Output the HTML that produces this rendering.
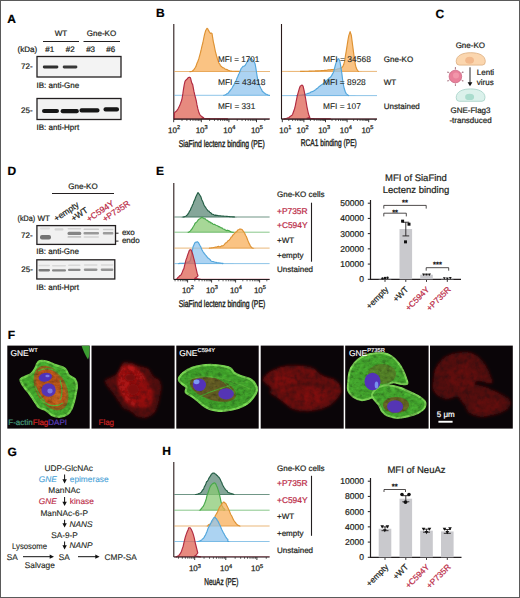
<!DOCTYPE html>
<html><head><meta charset="utf-8"><style>
html,body{margin:0;padding:0;background:#fff;overflow:hidden;}
svg{display:block;font-family:"Liberation Sans", sans-serif;text-rendering:geometricPrecision;}
</style></head><body>
<svg width="520" height="598" viewBox="0 0 520 598">
<defs>
<filter id="blur2s" x="-20%" y="-80%" width="140%" height="260%"><feGaussianBlur stdDeviation="0.7 0.5"/></filter>
<filter id="blur1" x="-20%" y="-50%" width="140%" height="200%"><feGaussianBlur stdDeviation="0.6"/></filter>
<filter id="blur2" x="-20%" y="-20%" width="140%" height="140%"><feGaussianBlur stdDeviation="1.2"/></filter>
<filter id="blur3" x="-20%" y="-20%" width="140%" height="140%"><feGaussianBlur stdDeviation="2"/></filter>
</defs>
<rect x="0.50" y="0.50" width="519.00" height="597.00" fill="#fff" stroke="#5a5a5a" stroke-width="1"/>
<text x="7.20" y="22.80" font-size="12" fill="#000" stroke="#000" stroke-width="0.22" font-weight="bold">A</text>
<text x="156.00" y="17.30" font-size="12" fill="#000" stroke="#000" stroke-width="0.22" font-weight="bold">B</text>
<text x="435.60" y="17.50" font-size="12" fill="#000" stroke="#000" stroke-width="0.22" font-weight="bold">C</text>
<text x="7.40" y="175.00" font-size="12" fill="#000" stroke="#000" stroke-width="0.22" font-weight="bold">D</text>
<text x="156.00" y="175.10" font-size="12" fill="#000" stroke="#000" stroke-width="0.22" font-weight="bold">E</text>
<text x="7.70" y="338.80" font-size="12" fill="#000" stroke="#000" stroke-width="0.22" font-weight="bold">F</text>
<text x="7.40" y="455.90" font-size="12" fill="#000" stroke="#000" stroke-width="0.22" font-weight="bold">G</text>
<text x="162.30" y="455.00" font-size="12" fill="#000" stroke="#000" stroke-width="0.22" font-weight="bold">H</text>
<text x="61.00" y="36.30" font-size="8" fill="#231f20" stroke="#231f20" stroke-width="0.22" text-anchor="middle">WT</text>
<line x1="43.00" y1="41.50" x2="79.00" y2="41.50" stroke="#231f20" stroke-width="1"/>
<text x="101.50" y="36.30" font-size="8" fill="#231f20" stroke="#231f20" stroke-width="0.22" text-anchor="middle">Gne-KO</text>
<line x1="83.50" y1="41.50" x2="120.00" y2="41.50" stroke="#231f20" stroke-width="1"/>
<text x="17.50" y="51.70" font-size="8" fill="#231f20" stroke="#231f20" stroke-width="0.22">(kDa)</text>
<text x="49.80" y="51.70" font-size="8" fill="#231f20" stroke="#231f20" stroke-width="0.22" text-anchor="middle">#1</text>
<text x="70.30" y="51.70" font-size="8" fill="#231f20" stroke="#231f20" stroke-width="0.22" text-anchor="middle">#2</text>
<text x="90.60" y="51.70" font-size="8" fill="#231f20" stroke="#231f20" stroke-width="0.22" text-anchor="middle">#3</text>
<text x="110.80" y="51.70" font-size="8" fill="#231f20" stroke="#231f20" stroke-width="0.22" text-anchor="middle">#6</text>
<rect x="37.00" y="56.50" width="84.00" height="20.50" fill="#f3f3f3" stroke="#231f20" stroke-width="1.3"/>
<text x="21.00" y="69.30" font-size="8" fill="#231f20" stroke="#231f20" stroke-width="0.22">72-</text>
<g filter="url(#blur2s)">
<rect x="42.8" y="65.5" width="15.6" height="3" rx="1.4" fill="#2e2e2e"/>
<rect x="62.7" y="65.6" width="14.7" height="2.9" rx="1.4" fill="#383838"/>
</g>
<text x="36.50" y="88.30" font-size="8" fill="#231f20" stroke="#231f20" stroke-width="0.22">IB: anti-Gne</text>
<rect x="37.00" y="98.50" width="84.00" height="21.00" fill="#f2f2f2" stroke="#231f20" stroke-width="1.3"/>
<text x="21.00" y="113.00" font-size="8" fill="#231f20" stroke="#231f20" stroke-width="0.22">25-</text>
<g filter="url(#blur2s)">
<rect x="42" y="108.9" width="17" height="4.2" rx="2" fill="#151515"/>
<rect x="60.6" y="109.10000000000001" width="18.199999999999996" height="4.2" rx="2" fill="#151515"/>
<rect x="79.5" y="108.2" width="20.0" height="4.2" rx="2" fill="#151515"/>
<rect x="103.5" y="107.30000000000001" width="15.5" height="4.2" rx="2" fill="#151515"/>
</g>
<text x="36.50" y="130.20" font-size="8" fill="#231f20" stroke="#231f20" stroke-width="0.22">IB: anti-Hprt</text>
<line x1="173.80" y1="24.00" x2="173.80" y2="119.20" stroke="#2a1a1a" stroke-width="1.1"/>
<path d="M174.3,71.8 L174.7,71.8 L175.2,71.8 L175.7,71.8 L176.4,71.8 L177.1,71.8 L177.8,71.8 L178.6,71.8 L179.4,71.8 L180.2,71.8 L181.1,71.8 L182.0,71.8 L182.8,71.8 L183.7,71.8 L184.6,71.7 L185.4,71.7 L186.2,71.7 L187.0,71.7 L187.7,71.7 L188.4,71.7 L189.0,71.7 L189.5,71.6 L190.0,71.6 L191.7,71.4 L192.4,71.2 L192.6,70.9 L193.0,70.5 L194.1,69.4 L195.1,67.8 L196.1,66.1 L197.0,63.2 L197.9,61.2 L198.9,58.4 L200.0,54.3 L201.0,50.5 L201.9,46.4 L202.8,43.0 L203.7,38.5 L204.5,34.7 L205.7,30.5 L207.0,28.4 L207.7,28.7 L208.5,30.4 L209.5,32.1 L210.5,33.5 L211.3,33.0 L212.0,33.4 L213.3,41.6 L214.2,45.5 L215.3,51.1 L215.9,53.3 L216.6,56.0 L217.4,58.7 L218.2,61.1 L218.9,63.1 L219.6,63.8 L220.3,65.3 L221.1,66.3 L222.0,67.0 L222.6,67.7 L223.3,67.7 L224.0,68.1 L224.7,68.6 L225.4,69.3 L226.2,69.4 L227.0,69.6 L227.8,70.1 L228.3,70.2 L228.7,70.4 L229.0,70.5 L229.2,70.7 L229.6,70.8 L230.1,70.9 L230.8,71.0 L231.8,71.1 L233.1,71.2 L235.0,71.3 L235.4,71.3 L235.9,71.3 L236.4,71.4 L237.0,71.4 L237.5,71.4 L238.1,71.4 L238.8,71.4 L239.4,71.4 L240.1,71.4 L240.8,71.5 L241.5,71.5 L242.2,71.5 L243.0,71.5 L243.8,71.5 L244.6,71.5 L245.4,71.5 L246.2,71.5 L247.0,71.6 L247.8,71.6 L248.7,71.6 L249.5,71.6 L250.4,71.6 L251.2,71.6 L252.1,71.6 L252.9,71.6 L253.8,71.6 L254.7,71.6 L255.5,71.7 L256.4,71.7 L257.2,71.7 L258.0,71.7 L258.8,71.7 L259.6,71.7 L260.4,71.7 L261.2,71.7 L262.0,71.7 L262.7,71.7 L263.4,71.7 L264.1,71.7 L264.8,71.7 L265.4,71.8 L266.1,71.8 L266.7,71.8 L267.3,71.8 L267.8,71.8 L268.3,71.8 L268.8,71.8 L269.2,71.8 L269.6,71.8 L270.0,71.8 L270.0,71.8 L174.3,71.8 Z" fill="#f8af5a" fill-opacity="0.75" stroke="none"/>
<line x1="174.3" y1="71.5" x2="270.0" y2="71.5" stroke="#de9233" stroke-opacity="0.65" stroke-width="1"/>
<path d="M190.0,71.6 L191.7,71.4 L192.4,71.2 L192.6,70.9 L193.0,70.5 L194.1,69.4 L195.1,67.8 L196.1,66.1 L197.0,63.2 L197.9,61.2 L198.9,58.4 L200.0,54.3 L201.0,50.5 L201.9,46.4 L202.8,43.0 L203.7,38.5 L204.5,34.7 L205.7,30.5 L207.0,28.4 L207.7,28.7 L208.5,30.4 L209.5,32.1 L210.5,33.5 L211.3,33.0 L212.0,33.4 L213.3,41.6 L214.2,45.5 L215.3,51.1 L215.9,53.3 L216.6,56.0 L217.4,58.7 L218.2,61.1 L218.9,63.1 L219.6,63.8 L220.3,65.3 L221.1,66.3 L222.0,67.0 L222.6,67.7 L223.3,67.7 L224.0,68.1 L224.7,68.6 L225.4,69.3 L226.2,69.4 L227.0,69.6 L227.8,70.1 L228.3,70.2 L228.7,70.4 L229.0,70.5 L229.2,70.7 L229.6,70.8 L230.1,70.9 L230.8,71.0 L231.8,71.1 L233.1,71.2 L235.0,71.3 L235.4,71.3 L235.9,71.3 L236.4,71.4 L237.0,71.4 L237.5,71.4 L238.1,71.4 L238.8,71.4 L239.4,71.4 L240.1,71.4 L240.8,71.5" fill="none" stroke="#de9233" stroke-width="1.15" stroke-linejoin="round" stroke-linecap="round"/>
<path d="M174.3,95.6 L174.7,95.6 L175.1,95.6 L175.5,95.6 L175.9,95.6 L176.4,95.6 L176.9,95.6 L177.5,95.6 L178.0,95.6 L178.6,95.6 L179.2,95.6 L179.9,95.6 L180.5,95.6 L181.2,95.6 L181.9,95.6 L182.6,95.6 L183.3,95.6 L184.0,95.6 L184.8,95.6 L185.6,95.6 L186.4,95.6 L187.2,95.6 L188.0,95.6 L188.8,95.6 L189.6,95.6 L190.5,95.6 L191.3,95.6 L192.1,95.6 L193.0,95.6 L193.9,95.6 L194.7,95.6 L195.6,95.6 L196.5,95.6 L197.3,95.6 L198.2,95.6 L199.1,95.6 L200.0,95.6 L200.8,95.6 L201.7,95.6 L202.5,95.6 L203.4,95.6 L204.2,95.6 L205.1,95.6 L205.9,95.6 L206.7,95.6 L207.5,95.5 L208.3,95.5 L209.1,95.5 L209.9,95.5 L210.6,95.5 L211.4,95.5 L212.1,95.5 L212.8,95.5 L213.5,95.5 L214.2,95.5 L214.8,95.5 L215.4,95.5 L216.0,95.5 L216.6,95.5 L217.2,95.5 L217.7,95.5 L218.2,95.5 L218.7,95.5 L219.2,95.5 L219.6,95.5 L220.0,95.5 L223.5,95.5 L224.6,95.5 L224.3,95.4 L223.8,95.4 L223.9,95.2 L224.7,95.0 L225.5,94.7 L226.2,94.3 L227.0,93.7 L227.8,93.5 L228.6,92.7 L229.3,91.5 L230.1,90.8 L230.8,89.7 L231.6,88.8 L232.4,87.5 L233.2,85.8 L233.9,85.0 L234.7,82.9 L235.5,81.6 L236.3,80.2 L237.1,77.9 L237.9,76.3 L238.7,74.2 L239.3,73.2 L240.4,70.5 L241.2,68.4 L242.2,67.4 L243.2,66.2 L244.2,66.1 L245.1,65.5 L246.1,63.8 L247.0,61.9 L247.9,60.9 L248.9,60.0 L249.6,59.1 L250.4,58.9 L251.2,58.3 L252.2,59.6 L253.2,60.7 L254.2,62.0 L255.1,63.8 L255.8,67.7 L256.6,73.0 L257.5,78.3 L258.5,82.3 L259.2,85.0 L260.0,86.6 L260.8,88.2 L261.6,89.6 L262.4,91.4 L263.3,92.0 L264.0,92.7 L264.8,93.3 L265.7,94.1 L266.5,94.2 L267.2,94.6 L268.0,95.0 L268.8,95.2 L269.5,95.5 L270.0,95.6 L270.0,95.6 L174.3,95.6 Z" fill="#90c4ee" fill-opacity="0.75" stroke="none"/>
<line x1="174.3" y1="95.3" x2="270.0" y2="95.3" stroke="#52a6dc" stroke-opacity="0.65" stroke-width="1"/>
<path d="M223.8,95.4 L223.9,95.2 L224.7,95.0 L225.5,94.7 L226.2,94.3 L227.0,93.7 L227.8,93.5 L228.6,92.7 L229.3,91.5 L230.1,90.8 L230.8,89.7 L231.6,88.8 L232.4,87.5 L233.2,85.8 L233.9,85.0 L234.7,82.9 L235.5,81.6 L236.3,80.2 L237.1,77.9 L237.9,76.3 L238.7,74.2 L239.3,73.2 L240.4,70.5 L241.2,68.4 L242.2,67.4 L243.2,66.2 L244.2,66.1 L245.1,65.5 L246.1,63.8 L247.0,61.9 L247.9,60.9 L248.9,60.0 L249.6,59.1 L250.4,58.9 L251.2,58.3 L252.2,59.6 L253.2,60.7 L254.2,62.0 L255.1,63.8 L255.8,67.7 L256.6,73.0 L257.5,78.3 L258.5,82.3 L259.2,85.0 L260.0,86.6 L260.8,88.2 L261.6,89.6 L262.4,91.4 L263.3,92.0 L264.0,92.7 L264.8,93.3 L265.7,94.1 L266.5,94.2 L267.2,94.6 L268.0,95.0 L268.8,95.2 L269.5,95.5" fill="none" stroke="#52a6dc" stroke-width="1.15" stroke-linejoin="round" stroke-linecap="round"/>
<path d="M174.3,119.2 L174.4,113.0 L175.0,112.2 L175.9,111.5 L176.8,110.7 L177.5,109.7 L178.2,108.6 L179.0,107.0 L179.7,105.6 L180.6,103.3 L181.4,101.0 L182.1,98.3 L182.9,93.4 L183.5,89.1 L184.2,84.9 L185.0,81.4 L185.7,80.2 L186.4,79.8 L187.2,78.8 L187.9,78.0 L188.6,77.6 L189.3,77.2 L190.5,77.8 L191.7,82.9 L192.7,84.6 L193.9,91.2 L194.7,94.7 L195.6,98.1 L196.3,101.0 L197.0,104.9 L197.9,108.9 L198.9,112.6 L199.8,114.6 L200.8,115.7 L201.4,116.3 L202.1,116.7 L202.9,117.4 L203.7,117.7 L203.5,117.9 L202.4,118.1 L201.8,118.3 L203.1,118.5 L207.6,118.6 L208.0,118.6 L208.4,118.6 L208.8,118.6 L209.3,118.6 L209.7,118.6 L210.2,118.7 L210.7,118.7 L211.3,118.7 L211.8,118.7 L212.4,118.7 L213.0,118.7 L213.6,118.7 L214.2,118.7 L214.8,118.7 L215.4,118.7 L216.1,118.7 L216.8,118.7 L217.5,118.8 L218.2,118.8 L218.9,118.8 L219.6,118.8 L220.4,118.8 L221.1,118.8 L221.9,118.8 L222.6,118.8 L223.4,118.8 L224.2,118.8 L225.0,118.8 L225.8,118.8 L226.7,118.8 L227.5,118.9 L228.3,118.9 L229.1,118.9 L230.0,118.9 L230.8,118.9 L231.7,118.9 L232.5,118.9 L233.4,118.9 L234.3,118.9 L235.1,118.9 L236.0,118.9 L236.9,118.9 L237.7,118.9 L238.6,119.0 L239.5,119.0 L240.3,119.0 L241.2,119.0 L242.1,119.0 L243.0,119.0 L243.8,119.0 L244.7,119.0 L245.5,119.0 L246.4,119.0 L247.2,119.0 L248.1,119.0 L248.9,119.0 L249.7,119.0 L250.6,119.0 L251.4,119.1 L252.2,119.1 L253.0,119.1 L253.8,119.1 L254.6,119.1 L255.3,119.1 L256.1,119.1 L256.9,119.1 L257.6,119.1 L258.3,119.1 L259.0,119.1 L259.8,119.1 L260.4,119.1 L261.1,119.1 L261.8,119.1 L262.4,119.1 L263.1,119.1 L263.7,119.1 L264.3,119.2 L264.9,119.2 L265.4,119.2 L266.0,119.2 L266.5,119.2 L267.0,119.2 L267.5,119.2 L268.0,119.2 L268.4,119.2 L268.8,119.2 L269.3,119.2 L269.6,119.2 L270.0,119.2 L270.0,119.2 L174.3,119.2 Z" fill="#df6354" fill-opacity="0.75" stroke="none"/>
<line x1="174.3" y1="118.9" x2="270.0" y2="118.9" stroke="#b02a40" stroke-opacity="0.65" stroke-width="1"/>
<path d="M174.3,119.2 L174.4,113.0 L175.0,112.2 L175.9,111.5 L176.8,110.7 L177.5,109.7 L178.2,108.6 L179.0,107.0 L179.7,105.6 L180.6,103.3 L181.4,101.0 L182.1,98.3 L182.9,93.4 L183.5,89.1 L184.2,84.9 L185.0,81.4 L185.7,80.2 L186.4,79.8 L187.2,78.8 L187.9,78.0 L188.6,77.6 L189.3,77.2 L190.5,77.8 L191.7,82.9 L192.7,84.6 L193.9,91.2 L194.7,94.7 L195.6,98.1 L196.3,101.0 L197.0,104.9 L197.9,108.9 L198.9,112.6 L199.8,114.6 L200.8,115.7 L201.4,116.3 L202.1,116.7 L202.9,117.4 L203.7,117.7 L203.5,117.9 L202.4,118.1 L201.8,118.3 L203.1,118.5 L207.6,118.6 L208.0,118.6 L208.4,118.6 L208.8,118.6 L209.3,118.6 L209.7,118.6 L210.2,118.7 L210.7,118.7 L211.3,118.7 L211.8,118.7 L212.4,118.7 L213.0,118.7 L213.6,118.7 L214.2,118.7 L214.8,118.7 L215.4,118.7 L216.1,118.7 L216.8,118.7 L217.5,118.8 L218.2,118.8 L218.9,118.8 L219.6,118.8 L220.4,118.8 L221.1,118.8 L221.9,118.8 L222.6,118.8 L223.4,118.8 L224.2,118.8 L225.0,118.8 L225.8,118.8 L226.7,118.8 L227.5,118.9" fill="none" stroke="#b02a40" stroke-width="1.15" stroke-linejoin="round" stroke-linecap="round"/>
<line x1="173.80" y1="119.20" x2="269.50" y2="119.20" stroke="#231f20" stroke-width="1.2"/>
<line x1="173.70" y1="119.20" x2="173.70" y2="122.20" stroke="#231f20" stroke-width="0.9"/>
<line x1="182.01" y1="119.20" x2="182.01" y2="121.00" stroke="#231f20" stroke-width="0.7"/>
<line x1="186.87" y1="119.20" x2="186.87" y2="121.00" stroke="#231f20" stroke-width="0.7"/>
<line x1="190.32" y1="119.20" x2="190.32" y2="121.00" stroke="#231f20" stroke-width="0.7"/>
<line x1="192.99" y1="119.20" x2="192.99" y2="121.00" stroke="#231f20" stroke-width="0.7"/>
<line x1="195.18" y1="119.20" x2="195.18" y2="121.00" stroke="#231f20" stroke-width="0.7"/>
<line x1="197.02" y1="119.20" x2="197.02" y2="121.00" stroke="#231f20" stroke-width="0.7"/>
<line x1="198.63" y1="119.20" x2="198.63" y2="121.00" stroke="#231f20" stroke-width="0.7"/>
<line x1="200.04" y1="119.20" x2="200.04" y2="121.00" stroke="#231f20" stroke-width="0.7"/>
<line x1="201.30" y1="119.20" x2="201.30" y2="122.20" stroke="#231f20" stroke-width="0.9"/>
<line x1="209.61" y1="119.20" x2="209.61" y2="121.00" stroke="#231f20" stroke-width="0.7"/>
<line x1="214.47" y1="119.20" x2="214.47" y2="121.00" stroke="#231f20" stroke-width="0.7"/>
<line x1="217.92" y1="119.20" x2="217.92" y2="121.00" stroke="#231f20" stroke-width="0.7"/>
<line x1="220.59" y1="119.20" x2="220.59" y2="121.00" stroke="#231f20" stroke-width="0.7"/>
<line x1="222.78" y1="119.20" x2="222.78" y2="121.00" stroke="#231f20" stroke-width="0.7"/>
<line x1="224.62" y1="119.20" x2="224.62" y2="121.00" stroke="#231f20" stroke-width="0.7"/>
<line x1="226.23" y1="119.20" x2="226.23" y2="121.00" stroke="#231f20" stroke-width="0.7"/>
<line x1="227.64" y1="119.20" x2="227.64" y2="121.00" stroke="#231f20" stroke-width="0.7"/>
<line x1="228.90" y1="119.20" x2="228.90" y2="122.20" stroke="#231f20" stroke-width="0.9"/>
<line x1="237.21" y1="119.20" x2="237.21" y2="121.00" stroke="#231f20" stroke-width="0.7"/>
<line x1="242.07" y1="119.20" x2="242.07" y2="121.00" stroke="#231f20" stroke-width="0.7"/>
<line x1="245.52" y1="119.20" x2="245.52" y2="121.00" stroke="#231f20" stroke-width="0.7"/>
<line x1="248.19" y1="119.20" x2="248.19" y2="121.00" stroke="#231f20" stroke-width="0.7"/>
<line x1="250.38" y1="119.20" x2="250.38" y2="121.00" stroke="#231f20" stroke-width="0.7"/>
<line x1="252.22" y1="119.20" x2="252.22" y2="121.00" stroke="#231f20" stroke-width="0.7"/>
<line x1="253.83" y1="119.20" x2="253.83" y2="121.00" stroke="#231f20" stroke-width="0.7"/>
<line x1="255.24" y1="119.20" x2="255.24" y2="121.00" stroke="#231f20" stroke-width="0.7"/>
<line x1="256.50" y1="119.20" x2="256.50" y2="122.20" stroke="#231f20" stroke-width="0.9"/>
<line x1="264.81" y1="119.20" x2="264.81" y2="121.00" stroke="#231f20" stroke-width="0.7"/>
<text x="174.10" y="132.70" font-size="8" fill="#231f20" stroke="#231f20" stroke-width="0.25" text-anchor="middle">10<tspan font-size="5.60" dy="-3.36">2</tspan></text>
<text x="201.70" y="132.70" font-size="8" fill="#231f20" stroke="#231f20" stroke-width="0.25" text-anchor="middle">10<tspan font-size="5.60" dy="-3.36">3</tspan></text>
<text x="229.30" y="132.70" font-size="8" fill="#231f20" stroke="#231f20" stroke-width="0.25" text-anchor="middle">10<tspan font-size="5.60" dy="-3.36">4</tspan></text>
<text x="256.90" y="132.70" font-size="8" fill="#231f20" stroke="#231f20" stroke-width="0.25" text-anchor="middle">10<tspan font-size="5.60" dy="-3.36">5</tspan></text>
<text x="178.70" y="146.70" font-size="9.8" fill="#231f20" stroke="#231f20" stroke-width="0.4" textLength="86" lengthAdjust="spacingAndGlyphs">SiaFind lectenz binding (PE)</text>
<text x="217.90" y="62.00" font-size="8.3" fill="#231f20" stroke="#231f20" stroke-width="0.1" textLength="41.4" lengthAdjust="spacingAndGlyphs">MFI = 1701</text>
<text x="217.90" y="85.00" font-size="8.3" fill="#231f20" stroke="#231f20" stroke-width="0.1" textLength="47.6" lengthAdjust="spacingAndGlyphs">MFI = 43418</text>
<text x="217.90" y="109.20" font-size="8.3" fill="#231f20" stroke="#231f20" stroke-width="0.1" textLength="37.4" lengthAdjust="spacingAndGlyphs">MFI = 331</text>
<line x1="281.50" y1="24.00" x2="281.50" y2="119.20" stroke="#2a1a1a" stroke-width="1.1"/>
<path d="M282.0,71.7 L282.4,71.7 L282.7,71.7 L283.1,71.7 L283.6,71.7 L284.1,71.7 L284.7,71.7 L285.4,71.7 L286.3,71.7 L287.3,71.7 L288.6,71.6 L290.0,71.6 L290.5,71.6 L291.0,71.6 L291.5,71.6 L292.1,71.6 L292.7,71.5 L293.3,71.5 L293.9,71.5 L294.6,71.5 L295.3,71.5 L296.0,71.5 L296.7,71.5 L297.4,71.4 L298.2,71.4 L298.9,71.4 L299.7,71.4 L300.5,71.4 L301.2,71.3 L302.0,71.3 L302.8,71.3 L303.6,71.3 L304.4,71.3 L305.2,71.2 L306.0,71.2 L306.8,71.2 L307.6,71.2 L308.3,71.2 L309.1,71.1 L309.9,71.1 L310.6,71.1 L311.4,71.1 L312.1,71.0 L312.8,71.0 L313.5,71.0 L314.1,71.0 L314.8,71.0 L315.4,70.9 L316.0,70.9 L316.9,70.9 L317.8,70.8 L318.6,70.8 L319.5,70.7 L320.4,70.7 L321.2,70.6 L322.0,70.6 L322.8,70.5 L323.6,70.5 L324.4,70.4 L325.1,70.4 L325.8,70.3 L326.6,70.3 L327.3,70.2 L328.0,69.9 L328.6,69.9 L329.3,69.9 L329.9,69.8 L330.5,69.9 L331.1,69.6 L331.7,69.6 L332.3,69.6 L332.8,69.5 L333.3,69.6 L334.5,69.3 L335.6,69.7 L336.5,69.4 L337.3,69.0 L337.9,68.9 L338.5,68.8 L339.1,68.7 L339.6,68.3 L340.2,68.5 L341.1,68.1 L341.9,67.3 L342.6,66.7 L343.2,65.6 L343.7,64.6 L344.7,60.8 L345.4,56.1 L346.2,51.3 L347.1,45.6 L348.0,39.9 L348.8,35.7 L350.1,31.6 L351.3,35.2 L352.7,45.8 L354.0,55.9 L355.4,64.8 L356.0,67.3 L356.7,69.1 L357.5,70.3 L357.9,70.8 L358.2,71.2 L358.6,71.4 L359.5,71.5 L361.0,71.6 L361.5,71.6 L362.0,71.7 L362.7,71.7 L363.4,71.7 L364.1,71.7 L364.9,71.7 L365.7,71.7 L366.6,71.7 L367.4,71.7 L368.3,71.7 L369.2,71.7 L370.1,71.7 L371.0,71.7 L371.8,71.7 L372.7,71.7 L373.5,71.7 L374.2,71.7 L374.9,71.7 L375.5,71.7 L376.1,71.7 L376.6,71.7 L377.0,71.7 L377.0,71.7 L282.0,71.7 Z" fill="#f8af5a" fill-opacity="0.75" stroke="none"/>
<line x1="282.0" y1="71.4" x2="377.0" y2="71.4" stroke="#de9233" stroke-opacity="0.65" stroke-width="1"/>
<path d="M300.5,71.4 L301.2,71.3 L302.0,71.3 L302.8,71.3 L303.6,71.3 L304.4,71.3 L305.2,71.2 L306.0,71.2 L306.8,71.2 L307.6,71.2 L308.3,71.2 L309.1,71.1 L309.9,71.1 L310.6,71.1 L311.4,71.1 L312.1,71.0 L312.8,71.0 L313.5,71.0 L314.1,71.0 L314.8,71.0 L315.4,70.9 L316.0,70.9 L316.9,70.9 L317.8,70.8 L318.6,70.8 L319.5,70.7 L320.4,70.7 L321.2,70.6 L322.0,70.6 L322.8,70.5 L323.6,70.5 L324.4,70.4 L325.1,70.4 L325.8,70.3 L326.6,70.3 L327.3,70.2 L328.0,69.9 L328.6,69.9 L329.3,69.9 L329.9,69.8 L330.5,69.9 L331.1,69.6 L331.7,69.6 L332.3,69.6 L332.8,69.5 L333.3,69.6 L334.5,69.3 L335.6,69.7 L336.5,69.4 L337.3,69.0 L337.9,68.9 L338.5,68.8 L339.1,68.7 L339.6,68.3 L340.2,68.5 L341.1,68.1 L341.9,67.3 L342.6,66.7 L343.2,65.6 L343.7,64.6 L344.7,60.8 L345.4,56.1 L346.2,51.3 L347.1,45.6 L348.0,39.9 L348.8,35.7 L350.1,31.6 L351.3,35.2 L352.7,45.8 L354.0,55.9 L355.4,64.8 L356.0,67.3 L356.7,69.1 L357.5,70.3 L357.9,70.8 L358.2,71.2 L358.6,71.4" fill="none" stroke="#de9233" stroke-width="1.15" stroke-linejoin="round" stroke-linecap="round"/>
<path d="M282.0,95.9 L282.4,95.9 L283.0,95.9 L283.6,95.9 L284.3,95.9 L285.1,95.9 L285.9,95.9 L286.8,95.9 L287.6,95.9 L288.5,95.9 L289.4,95.9 L290.2,95.8 L291.0,95.8 L291.7,95.8 L292.4,95.8 L293.3,95.8 L294.2,95.7 L295.0,95.7 L295.7,95.6 L296.4,95.6 L297.1,95.5 L297.8,95.5 L298.6,95.4 L299.3,95.3 L300.1,95.2 L300.9,95.1 L301.7,95.0 L302.5,94.9 L303.2,94.7 L304.0,94.6 L304.8,94.4 L305.5,94.4 L306.2,94.0 L307.0,93.8 L307.8,93.4 L308.5,93.4 L309.3,93.0 L310.0,92.8 L310.7,92.2 L311.4,91.7 L312.1,91.7 L312.9,91.4 L313.6,91.0 L314.4,90.5 L315.1,90.1 L315.9,89.5 L316.6,88.7 L317.3,88.4 L318.1,87.7 L318.8,86.9 L319.6,86.2 L320.3,85.7 L321.1,85.1 L321.8,84.7 L322.6,84.3 L323.3,83.3 L324.1,83.0 L324.8,82.4 L325.6,81.8 L326.3,80.8 L327.0,80.1 L327.8,79.4 L328.6,78.7 L329.3,78.0 L330.0,77.6 L330.7,77.0 L331.3,76.2 L332.3,74.4 L333.2,72.8 L333.9,71.0 L334.9,67.0 L335.7,63.9 L336.6,61.5 L337.4,59.7 L338.1,58.8 L338.8,58.7 L340.0,61.9 L341.2,69.2 L341.9,73.9 L342.6,79.6 L343.4,84.8 L344.3,88.8 L345.3,91.7 L346.4,93.9 L347.1,94.4 L347.8,94.9 L348.6,95.3 L348.6,95.6 L348.6,95.7 L351.2,95.8 L351.6,95.8 L352.1,95.8 L352.6,95.8 L353.2,95.8 L353.8,95.8 L354.5,95.8 L355.1,95.8 L355.9,95.9 L356.6,95.9 L357.4,95.9 L358.2,95.9 L359.0,95.9 L359.9,95.9 L360.7,95.9 L361.6,95.9 L362.5,95.9 L363.4,95.9 L364.3,95.9 L365.1,95.9 L366.0,95.9 L366.9,95.9 L367.8,95.9 L368.6,95.9 L369.5,95.9 L370.3,95.9 L371.1,95.9 L371.8,95.9 L372.6,95.9 L373.3,95.9 L373.9,95.9 L374.6,95.9 L375.1,95.9 L375.7,95.9 L376.2,95.9 L376.6,95.9 L377.0,95.9 L377.0,95.9 L282.0,95.9 Z" fill="#90c4ee" fill-opacity="0.75" stroke="none"/>
<line x1="282.0" y1="95.6" x2="377.0" y2="95.6" stroke="#52a6dc" stroke-opacity="0.65" stroke-width="1"/>
<path d="M296.4,95.6 L297.1,95.5 L297.8,95.5 L298.6,95.4 L299.3,95.3 L300.1,95.2 L300.9,95.1 L301.7,95.0 L302.5,94.9 L303.2,94.7 L304.0,94.6 L304.8,94.4 L305.5,94.4 L306.2,94.0 L307.0,93.8 L307.8,93.4 L308.5,93.4 L309.3,93.0 L310.0,92.8 L310.7,92.2 L311.4,91.7 L312.1,91.7 L312.9,91.4 L313.6,91.0 L314.4,90.5 L315.1,90.1 L315.9,89.5 L316.6,88.7 L317.3,88.4 L318.1,87.7 L318.8,86.9 L319.6,86.2 L320.3,85.7 L321.1,85.1 L321.8,84.7 L322.6,84.3 L323.3,83.3 L324.1,83.0 L324.8,82.4 L325.6,81.8 L326.3,80.8 L327.0,80.1 L327.8,79.4 L328.6,78.7 L329.3,78.0 L330.0,77.6 L330.7,77.0 L331.3,76.2 L332.3,74.4 L333.2,72.8 L333.9,71.0 L334.9,67.0 L335.7,63.9 L336.6,61.5 L337.4,59.7 L338.1,58.8 L338.8,58.7 L340.0,61.9 L341.2,69.2 L341.9,73.9 L342.6,79.6 L343.4,84.8 L344.3,88.8 L345.3,91.7 L346.4,93.9 L347.1,94.4 L347.8,94.9 L348.6,95.3 L348.6,95.6" fill="none" stroke="#52a6dc" stroke-width="1.15" stroke-linejoin="round" stroke-linecap="round"/>
<path d="M282.0,119.2 L282.5,119.1 L283.2,119.0 L284.1,118.9 L285.0,118.7 L285.8,118.5 L286.6,118.3 L287.4,118.0 L288.2,117.7 L289.0,117.5 L289.7,116.8 L290.5,116.2 L291.3,115.6 L292.0,115.3 L292.6,114.3 L293.6,111.5 L294.5,109.0 L295.3,105.8 L296.0,102.2 L297.4,95.3 L298.1,92.9 L298.8,90.4 L299.6,87.7 L300.3,86.1 L301.7,85.1 L302.5,85.3 L303.2,86.6 L304.3,91.5 L305.6,98.5 L307.0,107.1 L308.4,113.5 L309.1,115.8 L309.9,117.4 L306.9,118.2 L311.8,118.6 L312.2,118.6 L312.6,118.6 L313.0,118.6 L313.4,118.6 L313.9,118.6 L314.3,118.7 L314.8,118.7 L315.4,118.7 L315.9,118.7 L316.4,118.7 L317.0,118.7 L317.6,118.7 L318.2,118.7 L318.8,118.7 L319.4,118.7 L320.1,118.7 L320.7,118.7 L321.4,118.8 L322.1,118.8 L322.8,118.8 L323.5,118.8 L324.3,118.8 L325.0,118.8 L325.7,118.8 L326.5,118.8 L327.3,118.8 L328.1,118.8 L328.8,118.8 L329.6,118.8 L330.4,118.9 L331.3,118.9 L332.1,118.9 L332.9,118.9 L333.7,118.9 L334.6,118.9 L335.4,118.9 L336.3,118.9 L337.1,118.9 L338.0,118.9 L338.9,118.9 L339.7,118.9 L340.6,118.9 L341.5,118.9 L342.3,119.0 L343.2,119.0 L344.1,119.0 L345.0,119.0 L345.8,119.0 L346.7,119.0 L347.6,119.0 L348.4,119.0 L349.3,119.0 L350.2,119.0 L351.0,119.0 L351.9,119.0 L352.7,119.0 L353.6,119.0 L354.4,119.0 L355.3,119.0 L356.1,119.1 L356.9,119.1 L357.8,119.1 L358.6,119.1 L359.4,119.1 L360.2,119.1 L360.9,119.1 L361.7,119.1 L362.5,119.1 L363.2,119.1 L364.0,119.1 L364.7,119.1 L365.4,119.1 L366.1,119.1 L366.8,119.1 L367.5,119.1 L368.2,119.1 L368.9,119.1 L369.5,119.1 L370.1,119.1 L370.7,119.2 L371.3,119.2 L371.9,119.2 L372.5,119.2 L373.0,119.2 L373.5,119.2 L374.0,119.2 L374.5,119.2 L375.0,119.2 L375.4,119.2 L375.8,119.2 L376.3,119.2 L376.6,119.2 L377.0,119.2 L377.0,119.2 L282.0,119.2 Z" fill="#df6354" fill-opacity="0.75" stroke="none"/>
<line x1="282.0" y1="118.9" x2="377.0" y2="118.9" stroke="#b02a40" stroke-opacity="0.65" stroke-width="1"/>
<path d="M284.1,118.9 L285.0,118.7 L285.8,118.5 L286.6,118.3 L287.4,118.0 L288.2,117.7 L289.0,117.5 L289.7,116.8 L290.5,116.2 L291.3,115.6 L292.0,115.3 L292.6,114.3 L293.6,111.5 L294.5,109.0 L295.3,105.8 L296.0,102.2 L297.4,95.3 L298.1,92.9 L298.8,90.4 L299.6,87.7 L300.3,86.1 L301.7,85.1 L302.5,85.3 L303.2,86.6 L304.3,91.5 L305.6,98.5 L307.0,107.1 L308.4,113.5 L309.1,115.8 L309.9,117.4 L306.9,118.2 L311.8,118.6 L312.2,118.6 L312.6,118.6 L313.0,118.6 L313.4,118.6 L313.9,118.6 L314.3,118.7 L314.8,118.7 L315.4,118.7 L315.9,118.7 L316.4,118.7 L317.0,118.7 L317.6,118.7 L318.2,118.7 L318.8,118.7 L319.4,118.7 L320.1,118.7 L320.7,118.7 L321.4,118.8 L322.1,118.8 L322.8,118.8 L323.5,118.8 L324.3,118.8 L325.0,118.8 L325.7,118.8 L326.5,118.8 L327.3,118.8 L328.1,118.8 L328.8,118.8 L329.6,118.8 L330.4,118.9" fill="none" stroke="#b02a40" stroke-width="1.15" stroke-linejoin="round" stroke-linecap="round"/>
<line x1="281.50" y1="119.20" x2="377.00" y2="119.20" stroke="#231f20" stroke-width="1.2"/>
<line x1="282.30" y1="119.20" x2="282.30" y2="122.20" stroke="#231f20" stroke-width="0.9"/>
<line x1="288.80" y1="119.20" x2="288.80" y2="121.00" stroke="#231f20" stroke-width="0.7"/>
<line x1="292.61" y1="119.20" x2="292.61" y2="121.00" stroke="#231f20" stroke-width="0.7"/>
<line x1="295.30" y1="119.20" x2="295.30" y2="121.00" stroke="#231f20" stroke-width="0.7"/>
<line x1="297.40" y1="119.20" x2="297.40" y2="121.00" stroke="#231f20" stroke-width="0.7"/>
<line x1="299.11" y1="119.20" x2="299.11" y2="121.00" stroke="#231f20" stroke-width="0.7"/>
<line x1="300.55" y1="119.20" x2="300.55" y2="121.00" stroke="#231f20" stroke-width="0.7"/>
<line x1="301.81" y1="119.20" x2="301.81" y2="121.00" stroke="#231f20" stroke-width="0.7"/>
<line x1="302.91" y1="119.20" x2="302.91" y2="121.00" stroke="#231f20" stroke-width="0.7"/>
<line x1="303.90" y1="119.20" x2="303.90" y2="122.20" stroke="#231f20" stroke-width="0.9"/>
<line x1="310.40" y1="119.20" x2="310.40" y2="121.00" stroke="#231f20" stroke-width="0.7"/>
<line x1="314.21" y1="119.20" x2="314.21" y2="121.00" stroke="#231f20" stroke-width="0.7"/>
<line x1="316.90" y1="119.20" x2="316.90" y2="121.00" stroke="#231f20" stroke-width="0.7"/>
<line x1="319.00" y1="119.20" x2="319.00" y2="121.00" stroke="#231f20" stroke-width="0.7"/>
<line x1="320.71" y1="119.20" x2="320.71" y2="121.00" stroke="#231f20" stroke-width="0.7"/>
<line x1="322.15" y1="119.20" x2="322.15" y2="121.00" stroke="#231f20" stroke-width="0.7"/>
<line x1="323.41" y1="119.20" x2="323.41" y2="121.00" stroke="#231f20" stroke-width="0.7"/>
<line x1="324.51" y1="119.20" x2="324.51" y2="121.00" stroke="#231f20" stroke-width="0.7"/>
<line x1="325.50" y1="119.20" x2="325.50" y2="122.20" stroke="#231f20" stroke-width="0.9"/>
<line x1="332.00" y1="119.20" x2="332.00" y2="121.00" stroke="#231f20" stroke-width="0.7"/>
<line x1="335.81" y1="119.20" x2="335.81" y2="121.00" stroke="#231f20" stroke-width="0.7"/>
<line x1="338.50" y1="119.20" x2="338.50" y2="121.00" stroke="#231f20" stroke-width="0.7"/>
<line x1="340.60" y1="119.20" x2="340.60" y2="121.00" stroke="#231f20" stroke-width="0.7"/>
<line x1="342.31" y1="119.20" x2="342.31" y2="121.00" stroke="#231f20" stroke-width="0.7"/>
<line x1="343.75" y1="119.20" x2="343.75" y2="121.00" stroke="#231f20" stroke-width="0.7"/>
<line x1="345.01" y1="119.20" x2="345.01" y2="121.00" stroke="#231f20" stroke-width="0.7"/>
<line x1="346.11" y1="119.20" x2="346.11" y2="121.00" stroke="#231f20" stroke-width="0.7"/>
<line x1="347.10" y1="119.20" x2="347.10" y2="122.20" stroke="#231f20" stroke-width="0.9"/>
<line x1="353.60" y1="119.20" x2="353.60" y2="121.00" stroke="#231f20" stroke-width="0.7"/>
<line x1="357.41" y1="119.20" x2="357.41" y2="121.00" stroke="#231f20" stroke-width="0.7"/>
<line x1="360.10" y1="119.20" x2="360.10" y2="121.00" stroke="#231f20" stroke-width="0.7"/>
<line x1="362.20" y1="119.20" x2="362.20" y2="121.00" stroke="#231f20" stroke-width="0.7"/>
<line x1="363.91" y1="119.20" x2="363.91" y2="121.00" stroke="#231f20" stroke-width="0.7"/>
<line x1="365.35" y1="119.20" x2="365.35" y2="121.00" stroke="#231f20" stroke-width="0.7"/>
<line x1="366.61" y1="119.20" x2="366.61" y2="121.00" stroke="#231f20" stroke-width="0.7"/>
<line x1="367.71" y1="119.20" x2="367.71" y2="121.00" stroke="#231f20" stroke-width="0.7"/>
<line x1="368.70" y1="119.20" x2="368.70" y2="122.20" stroke="#231f20" stroke-width="0.9"/>
<line x1="375.20" y1="119.20" x2="375.20" y2="121.00" stroke="#231f20" stroke-width="0.7"/>
<text x="285.30" y="132.70" font-size="8" fill="#231f20" stroke="#231f20" stroke-width="0.25" text-anchor="middle">10<tspan font-size="5.60" dy="-3.36">1</tspan></text>
<text x="302.60" y="132.70" font-size="8" fill="#231f20" stroke="#231f20" stroke-width="0.25" text-anchor="middle">10<tspan font-size="5.60" dy="-3.36">2</tspan></text>
<text x="324.20" y="132.70" font-size="8" fill="#231f20" stroke="#231f20" stroke-width="0.25" text-anchor="middle">10<tspan font-size="5.60" dy="-3.36">3</tspan></text>
<text x="345.80" y="132.70" font-size="8" fill="#231f20" stroke="#231f20" stroke-width="0.25" text-anchor="middle">10<tspan font-size="5.60" dy="-3.36">4</tspan></text>
<text x="367.40" y="132.70" font-size="8" fill="#231f20" stroke="#231f20" stroke-width="0.25" text-anchor="middle">10<tspan font-size="5.60" dy="-3.36">5</tspan></text>
<text x="300.80" y="146.20" font-size="9.8" fill="#231f20" stroke="#231f20" stroke-width="0.4" textLength="56" lengthAdjust="spacingAndGlyphs">RCA1 binding (PE)</text>
<text x="323.00" y="62.00" font-size="8.3" fill="#231f20" stroke="#231f20" stroke-width="0.1" textLength="48" lengthAdjust="spacingAndGlyphs">MFI = 34568</text>
<text x="323.00" y="85.00" font-size="8.3" fill="#231f20" stroke="#231f20" stroke-width="0.1" textLength="42.8" lengthAdjust="spacingAndGlyphs">MFI = 8928</text>
<text x="323.00" y="109.20" font-size="8.3" fill="#231f20" stroke="#231f20" stroke-width="0.1" textLength="37.8" lengthAdjust="spacingAndGlyphs">MFI = 107</text>
<text x="383.80" y="62.40" font-size="8" fill="#231f20" stroke="#231f20" stroke-width="0.22">Gne-KO</text>
<text x="383.80" y="85.00" font-size="8" fill="#231f20" stroke="#231f20" stroke-width="0.22">WT</text>
<text x="383.80" y="109.00" font-size="8" fill="#231f20" stroke="#231f20" stroke-width="0.22">Unstained</text>
<text x="470.30" y="48.00" font-size="8" fill="#231f20" stroke="#231f20" stroke-width="0.22" text-anchor="middle">Gne-KO</text>
<path d="M456.2,61.5 C456.2,55.2 463,52.7 470.8,52.7 C478.6,52.7 485.3,55.2 485.3,61.5 Q485.3,65.1 482.3,65.1 L459.2,65.1 Q456.2,65.1 456.2,61.5 Z" fill="#fbd6ae" stroke="#dcae80" stroke-width="0.8"/>
<ellipse cx="469.6" cy="60.3" rx="4.4" ry="3.5" fill="#f2b98c" filter="url(#blur1)"/>
<line x1="470.00" y1="67.30" x2="470.00" y2="83.00" stroke="#111" stroke-width="0.9"/>
<path d="M467.6,82.2 L472.4,82.2 L470,86.3 Z" fill="#111"/>
<text x="476.80" y="74.70" font-size="8" fill="#231f20" stroke="#231f20" stroke-width="0.22">Lenti</text>
<text x="476.80" y="85.20" font-size="8" fill="#231f20" stroke="#231f20" stroke-width="0.22">virus</text>
<g stroke="#b06078" stroke-width="0.45">
<line x1="455.40" y1="70.30" x2="455.40" y2="68.10"/>
<line x1="460.77" y1="73.40" x2="462.67" y2="72.30"/>
<line x1="460.77" y1="79.60" x2="462.67" y2="80.70"/>
<line x1="455.40" y1="82.70" x2="455.40" y2="84.90"/>
<line x1="450.03" y1="79.60" x2="448.13" y2="80.70"/>
<line x1="450.03" y1="73.40" x2="448.13" y2="72.30"/>
</g>
<circle cx="455.40" cy="67.90" r="0.6" fill="#7a3a4a"/>
<circle cx="462.85" cy="72.20" r="0.6" fill="#7a3a4a"/>
<circle cx="462.85" cy="80.80" r="0.6" fill="#7a3a4a"/>
<circle cx="455.40" cy="85.10" r="0.6" fill="#7a3a4a"/>
<circle cx="447.95" cy="80.80" r="0.6" fill="#7a3a4a"/>
<circle cx="447.95" cy="72.20" r="0.6" fill="#7a3a4a"/>
<circle cx="455.4" cy="76.5" r="6.3" fill="#e9809a" stroke="#c8607c" stroke-width="0.7"/>
<circle cx="456" cy="75.6" r="3" fill="#f296aa" filter="url(#blur1)"/>
<path d="M456.2,97.6 C456.2,91.4 463,88.9 470.6,88.9 C478.2,88.9 485,91.4 485,97.6 Q485,101.3 482,101.3 L459.2,101.3 Q456.2,101.3 456.2,97.6 Z" fill="#dbf1eb" stroke="#a3d0c5" stroke-width="0.8"/>
<ellipse cx="469.6" cy="96.9" rx="4.5" ry="3.2" fill="#a9dccd" filter="url(#blur1)"/>
<text x="470.50" y="113.10" font-size="8" fill="#231f20" stroke="#231f20" stroke-width="0.22" text-anchor="middle">GNE-Flag3</text>
<text x="470.50" y="122.90" font-size="8" fill="#231f20" stroke="#231f20" stroke-width="0.22" text-anchor="middle">-transduced</text>
<text x="83.00" y="189.00" font-size="8" fill="#231f20" stroke="#231f20" stroke-width="0.22" text-anchor="middle">Gne-KO</text>
<line x1="52.00" y1="193.50" x2="114.00" y2="193.50" stroke="#231f20" stroke-width="1"/>
<text x="17.50" y="220.80" font-size="8" fill="#231f20" stroke="#231f20" stroke-width="0.22" textLength="17.6" lengthAdjust="spacingAndGlyphs">(kDa)</text>
<text x="37.50" y="220.80" font-size="8" fill="#231f20" stroke="#231f20" stroke-width="0.22">WT</text>
<text x="56.3" y="221.8" font-size="8.5" fill="#231f20" stroke="#231f20" stroke-width="0.22" transform="rotate(-34 56.3 221.8)">+empty</text>
<text x="73.5" y="221.8" font-size="8.5" fill="#231f20" stroke="#231f20" stroke-width="0.22" transform="rotate(-34 73.5 221.8)">+WT</text>
<text x="89" y="222.2" font-size="8.5" fill="#bb2a46" stroke="#bb2a46" stroke-width="0.22" transform="rotate(-34 89 222.2)">+C594Y</text>
<text x="105" y="222.2" font-size="8.5" fill="#bb2a46" stroke="#bb2a46" stroke-width="0.22" transform="rotate(-34 105 222.2)">+P735R</text>
<rect x="36.90" y="225.60" width="78.60" height="18.80" fill="#f1f1f1" stroke="#231f20" stroke-width="1.3"/>
<text x="21.00" y="237.80" font-size="8" fill="#231f20" stroke="#231f20" stroke-width="0.22">72-</text>
<g filter="url(#blur2s)">
<rect x="40" y="235" width="11" height="4.6" rx="2" fill="#747474"/>
<rect x="40" y="227.6" width="10" height="2" rx="1" fill="#dcdcdc"/>
<rect x="54.5" y="228.3" width="9" height="2.3" rx="1" fill="#d4d4d4"/>
<rect x="67.5" y="231.7" width="13.8" height="3.2" rx="1.5" fill="#858585"/>
<rect x="67.5" y="236" width="13.8" height="1.8" rx="0.9" fill="#c4c4c4"/>
<rect x="67.5" y="228" width="13.8" height="1.6" rx="0.8" fill="#d4d4d4"/>
<rect x="83.5" y="232.1" width="15.5" height="2.4" rx="1" fill="#999"/>
<rect x="83.5" y="228.6" width="15.5" height="1.5" rx="0.7" fill="#cdcdcd"/>
<rect x="83.5" y="236.3" width="15.5" height="1.5" rx="0.7" fill="#d4d4d4"/>
<rect x="102.8" y="232.1" width="10.6" height="2.4" rx="1" fill="#9c9c9c"/>
<rect x="102.8" y="228.8" width="10.6" height="1.5" rx="0.7" fill="#cdcdcd"/>
</g>
<line x1="115.50" y1="233.20" x2="118.50" y2="233.20" stroke="#231f20" stroke-width="1"/>
<line x1="115.50" y1="241.10" x2="118.50" y2="241.10" stroke="#231f20" stroke-width="1"/>
<text x="121.90" y="235.30" font-size="8" fill="#231f20" stroke="#231f20" stroke-width="0.22">exo</text>
<text x="121.90" y="242.80" font-size="8" fill="#231f20" stroke="#231f20" stroke-width="0.22">endo</text>
<text x="36.30" y="254.30" font-size="8" fill="#231f20" stroke="#231f20" stroke-width="0.22">IB: anti-Gne</text>
<rect x="36.80" y="259.80" width="78.00" height="19.20" fill="#f1f1f1" stroke="#231f20" stroke-width="1.3"/>
<text x="21.30" y="272.40" font-size="8" fill="#231f20" stroke="#231f20" stroke-width="0.22">25-</text>
<g filter="url(#blur2s)">
<rect x="38.5" y="269.0" width="11.5" height="2.4" rx="1.1" fill="#7a7a7a"/>
<rect x="38.5" y="264.7" width="11.5" height="1.6" rx="0.8" fill="#d8d8d8"/>
<rect x="52" y="269.2" width="14" height="2.4" rx="1.1" fill="#858585"/>
<rect x="52" y="264.9" width="14" height="1.6" rx="0.8" fill="#d8d8d8"/>
<rect x="68" y="268.7" width="12.599999999999994" height="2.4" rx="1.1" fill="#888888"/>
<rect x="68" y="264.4" width="12.599999999999994" height="1.6" rx="0.8" fill="#d8d8d8"/>
<rect x="83.8" y="268.5" width="13.700000000000003" height="2.4" rx="1.1" fill="#939393"/>
<rect x="83.8" y="264.2" width="13.700000000000003" height="1.6" rx="0.8" fill="#d8d8d8"/>
<rect x="100.7" y="268.5" width="12.700000000000003" height="2.4" rx="1.1" fill="#949494"/>
<rect x="100.7" y="264.2" width="12.700000000000003" height="1.6" rx="0.8" fill="#d8d8d8"/>
</g>
<text x="36.30" y="289.60" font-size="8" fill="#231f20" stroke="#231f20" stroke-width="0.22">IB: anti-Hprt</text>
<line x1="173.80" y1="183.00" x2="173.80" y2="279.50" stroke="#2a1a1a" stroke-width="1.1"/>
<path d="M174.3,217.3 L174.7,217.3 L175.3,217.3 L175.9,217.3 L176.6,217.3 L177.4,217.3 L178.2,217.2 L179.1,217.2 L179.9,217.2 L180.8,217.2 L181.6,217.1 L182.3,217.1 L182.9,217.0 L183.5,216.9 L184.6,216.6 L185.5,216.3 L186.2,215.9 L186.8,215.2 L187.4,214.9 L188.2,213.6 L188.9,212.6 L189.6,211.0 L190.3,210.4 L191.0,208.3 L191.8,206.7 L192.5,205.1 L193.2,203.7 L193.9,201.4 L194.7,200.1 L195.4,198.0 L196.0,196.5 L197.1,194.2 L198.0,192.6 L199.0,193.8 L199.9,195.3 L200.9,196.9 L201.8,199.7 L202.7,201.4 L203.7,204.2 L204.3,205.6 L205.0,206.7 L205.8,207.7 L206.6,209.0 L207.3,209.9 L208.1,211.0 L208.9,211.1 L209.7,212.3 L210.5,212.6 L211.2,213.2 L211.9,214.1 L212.6,214.2 L213.4,214.6 L214.3,215.1 L214.9,215.4 L215.6,215.1 L216.3,215.4 L217.1,215.4 L217.8,215.5 L218.6,215.8 L219.4,215.7 L220.1,215.8 L220.8,215.9 L221.5,216.0 L222.2,216.0 L222.8,216.1 L223.5,216.1 L224.2,216.2 L225.0,216.2 L225.8,216.3 L226.5,216.4 L227.2,216.4 L228.0,216.5 L228.8,216.5 L229.6,216.6 L230.4,216.7 L231.2,216.7 L232.0,216.8 L232.8,216.9 L233.5,216.9 L234.1,216.9 L234.6,217.0 L234.9,217.0 L235.2,217.1 L235.6,217.1 L236.2,217.1 L237.0,217.2 L238.3,217.2 L240.0,217.2 L240.5,217.2 L240.9,217.2 L241.5,217.2 L242.0,217.2 L242.6,217.2 L243.3,217.2 L243.9,217.2 L244.6,217.2 L245.3,217.2 L246.1,217.2 L246.9,217.2 L247.6,217.2 L248.4,217.2 L249.3,217.3 L250.1,217.3 L250.9,217.3 L251.8,217.3 L252.6,217.3 L253.5,217.3 L254.3,217.3 L255.2,217.3 L256.1,217.3 L256.9,217.3 L257.8,217.3 L258.6,217.3 L259.4,217.3 L260.3,217.3 L261.1,217.3 L261.9,217.3 L262.6,217.3 L263.4,217.3 L264.1,217.3 L264.8,217.3 L265.5,217.3 L266.1,217.3 L266.7,217.3 L267.3,217.3 L267.8,217.3 L268.3,217.3 L268.8,217.3 L269.2,217.3 L269.6,217.3 L269.6,217.3 L174.3,217.3 Z" fill="#5c8877" fill-opacity="0.75" stroke="none"/>
<line x1="174.3" y1="217.0" x2="269.6" y2="217.0" stroke="#245e45" stroke-opacity="0.65" stroke-width="1"/>
<path d="M182.9,217.0 L183.5,216.9 L184.6,216.6 L185.5,216.3 L186.2,215.9 L186.8,215.2 L187.4,214.9 L188.2,213.6 L188.9,212.6 L189.6,211.0 L190.3,210.4 L191.0,208.3 L191.8,206.7 L192.5,205.1 L193.2,203.7 L193.9,201.4 L194.7,200.1 L195.4,198.0 L196.0,196.5 L197.1,194.2 L198.0,192.6 L199.0,193.8 L199.9,195.3 L200.9,196.9 L201.8,199.7 L202.7,201.4 L203.7,204.2 L204.3,205.6 L205.0,206.7 L205.8,207.7 L206.6,209.0 L207.3,209.9 L208.1,211.0 L208.9,211.1 L209.7,212.3 L210.5,212.6 L211.2,213.2 L211.9,214.1 L212.6,214.2 L213.4,214.6 L214.3,215.1 L214.9,215.4 L215.6,215.1 L216.3,215.4 L217.1,215.4 L217.8,215.5 L218.6,215.8 L219.4,215.7 L220.1,215.8 L220.8,215.9 L221.5,216.0 L222.2,216.0 L222.8,216.1 L223.5,216.1 L224.2,216.2 L225.0,216.2 L225.8,216.3 L226.5,216.4 L227.2,216.4 L228.0,216.5 L228.8,216.5 L229.6,216.6 L230.4,216.7 L231.2,216.7 L232.0,216.8 L232.8,216.9 L233.5,216.9 L234.1,216.9 L234.6,217.0" fill="none" stroke="#245e45" stroke-width="1.15" stroke-linejoin="round" stroke-linecap="round"/>
<path d="M174.3,232.5 L174.7,232.5 L175.3,232.5 L175.9,232.5 L176.6,232.5 L177.4,232.5 L178.2,232.5 L179.1,232.5 L179.9,232.5 L180.8,232.5 L181.7,232.5 L182.6,232.5 L183.4,232.5 L184.2,232.5 L184.9,232.4 L185.5,232.4 L186.0,232.4 L187.4,232.3 L188.2,232.3 L188.7,232.1 L189.3,231.7 L190.1,231.1 L190.8,230.3 L191.5,229.3 L192.2,228.7 L192.9,227.3 L193.6,226.2 L194.3,225.0 L195.1,223.3 L195.8,222.7 L196.6,222.1 L197.4,221.2 L198.2,219.9 L198.9,219.3 L199.7,218.9 L200.5,218.0 L201.2,217.8 L201.8,217.4 L202.7,217.8 L203.7,218.3 L204.3,218.8 L205.1,218.7 L205.9,219.6 L206.7,220.2 L207.6,220.3 L208.3,221.4 L209.1,221.9 L209.9,221.8 L210.7,222.9 L211.5,222.9 L212.4,223.5 L213.1,224.2 L213.8,224.5 L214.5,224.3 L215.2,224.8 L216.0,225.3 L216.7,225.5 L217.5,225.7 L218.2,226.2 L218.9,226.8 L219.6,226.7 L220.3,227.5 L221.0,227.8 L221.8,227.8 L222.5,228.4 L223.2,229.0 L223.9,229.2 L224.6,229.2 L225.3,230.2 L226.1,230.3 L226.8,230.7 L227.5,230.2 L228.2,230.6 L229.0,230.6 L229.7,231.2 L230.2,231.4 L230.5,231.6 L230.6,231.7 L230.8,231.9 L231.3,232.0 L232.1,232.1 L233.4,232.2 L235.5,232.3 L235.9,232.3 L236.4,232.3 L236.9,232.3 L237.5,232.3 L238.0,232.4 L238.6,232.4 L239.3,232.4 L239.9,232.4 L240.6,232.4 L241.3,232.4 L242.1,232.4 L242.8,232.4 L243.6,232.4 L244.4,232.4 L245.2,232.4 L246.0,232.4 L246.9,232.4 L247.7,232.4 L248.6,232.5 L249.4,232.5 L250.3,232.5 L251.2,232.5 L252.0,232.5 L252.9,232.5 L253.8,232.5 L254.7,232.5 L255.5,232.5 L256.4,232.5 L257.2,232.5 L258.1,232.5 L258.9,232.5 L259.7,232.5 L260.5,232.5 L261.3,232.5 L262.1,232.5 L262.8,232.5 L263.5,232.5 L264.2,232.5 L264.9,232.5 L265.6,232.5 L266.2,232.5 L266.8,232.5 L267.3,232.5 L267.9,232.5 L268.4,232.5 L268.8,232.5 L269.2,232.5 L269.6,232.5 L269.6,232.5 L174.3,232.5 Z" fill="#8aca74" fill-opacity="0.75" stroke="none"/>
<line x1="174.3" y1="232.2" x2="269.6" y2="232.2" stroke="#48a84a" stroke-opacity="0.65" stroke-width="1"/>
<path d="M188.2,232.3 L188.7,232.1 L189.3,231.7 L190.1,231.1 L190.8,230.3 L191.5,229.3 L192.2,228.7 L192.9,227.3 L193.6,226.2 L194.3,225.0 L195.1,223.3 L195.8,222.7 L196.6,222.1 L197.4,221.2 L198.2,219.9 L198.9,219.3 L199.7,218.9 L200.5,218.0 L201.2,217.8 L201.8,217.4 L202.7,217.8 L203.7,218.3 L204.3,218.8 L205.1,218.7 L205.9,219.6 L206.7,220.2 L207.6,220.3 L208.3,221.4 L209.1,221.9 L209.9,221.8 L210.7,222.9 L211.5,222.9 L212.4,223.5 L213.1,224.2 L213.8,224.5 L214.5,224.3 L215.2,224.8 L216.0,225.3 L216.7,225.5 L217.5,225.7 L218.2,226.2 L218.9,226.8 L219.6,226.7 L220.3,227.5 L221.0,227.8 L221.8,227.8 L222.5,228.4 L223.2,229.0 L223.9,229.2 L224.6,229.2 L225.3,230.2 L226.1,230.3 L226.8,230.7 L227.5,230.2 L228.2,230.6 L229.0,230.6 L229.7,231.2 L230.2,231.4 L230.5,231.6 L230.6,231.7 L230.8,231.9 L231.3,232.0 L232.1,232.1 L233.4,232.2" fill="none" stroke="#48a84a" stroke-width="1.15" stroke-linejoin="round" stroke-linecap="round"/>
<path d="M174.3,248.4 L174.7,248.4 L175.1,248.4 L175.6,248.4 L176.1,248.4 L176.7,248.4 L177.3,248.4 L177.9,248.4 L178.6,248.4 L179.3,248.4 L180.0,248.4 L180.8,248.4 L181.5,248.4 L182.3,248.4 L183.1,248.4 L184.0,248.4 L184.8,248.4 L185.6,248.4 L186.5,248.4 L187.4,248.4 L188.2,248.4 L189.1,248.4 L189.9,248.4 L190.8,248.4 L191.6,248.4 L192.4,248.3 L193.2,248.3 L194.0,248.3 L194.8,248.3 L195.6,248.3 L196.3,248.3 L197.0,248.3 L197.7,248.3 L198.3,248.3 L198.9,248.3 L199.5,248.3 L200.0,248.3 L201.2,248.3 L202.2,248.3 L203.1,248.3 L204.0,248.3 L204.8,248.2 L205.5,248.2 L206.2,248.2 L206.8,248.2 L207.4,248.2 L207.9,248.2 L208.4,248.1 L209.0,248.1 L209.5,248.1 L210.0,248.0 L210.5,248.0 L211.4,247.9 L212.3,247.8 L213.0,247.7 L213.6,247.5 L214.3,247.4 L214.9,247.3 L215.5,247.1 L216.2,247.0 L216.9,247.1 L217.7,246.6 L218.5,246.4 L219.2,246.6 L220.0,246.8 L220.7,246.6 L221.4,246.0 L222.0,245.7 L222.9,245.9 L223.7,245.1 L224.4,244.6 L225.1,243.5 L225.8,242.8 L226.6,242.7 L227.4,241.7 L228.1,240.6 L228.9,240.5 L229.7,239.4 L230.5,238.6 L231.2,237.1 L232.0,236.7 L232.7,235.1 L233.5,234.8 L234.3,233.6 L235.1,232.7 L236.0,232.0 L236.7,231.6 L237.4,230.5 L238.3,229.7 L239.0,229.5 L239.7,229.1 L240.5,229.0 L241.4,229.3 L242.2,229.7 L243.0,230.8 L243.9,232.0 L244.7,233.3 L245.5,235.2 L246.3,236.5 L247.0,238.3 L247.9,240.6 L248.9,243.1 L249.6,244.3 L250.3,245.8 L251.2,247.0 L251.6,247.4 L252.0,247.8 L252.4,248.0 L253.3,248.2 L254.7,248.3 L255.2,248.3 L255.7,248.4 L256.4,248.4 L257.0,248.4 L257.8,248.4 L258.6,248.4 L259.4,248.4 L260.2,248.4 L261.1,248.4 L261.9,248.4 L262.8,248.4 L263.7,248.4 L264.5,248.4 L265.3,248.4 L266.1,248.4 L266.8,248.4 L267.5,248.4 L268.2,248.4 L268.7,248.4 L269.2,248.4 L269.6,248.4 L269.6,248.4 L174.3,248.4 Z" fill="#f8af5a" fill-opacity="0.75" stroke="none"/>
<line x1="174.3" y1="248.1" x2="269.6" y2="248.1" stroke="#de9233" stroke-opacity="0.65" stroke-width="1"/>
<path d="M209.5,248.1 L210.0,248.0 L210.5,248.0 L211.4,247.9 L212.3,247.8 L213.0,247.7 L213.6,247.5 L214.3,247.4 L214.9,247.3 L215.5,247.1 L216.2,247.0 L216.9,247.1 L217.7,246.6 L218.5,246.4 L219.2,246.6 L220.0,246.8 L220.7,246.6 L221.4,246.0 L222.0,245.7 L222.9,245.9 L223.7,245.1 L224.4,244.6 L225.1,243.5 L225.8,242.8 L226.6,242.7 L227.4,241.7 L228.1,240.6 L228.9,240.5 L229.7,239.4 L230.5,238.6 L231.2,237.1 L232.0,236.7 L232.7,235.1 L233.5,234.8 L234.3,233.6 L235.1,232.7 L236.0,232.0 L236.7,231.6 L237.4,230.5 L238.3,229.7 L239.0,229.5 L239.7,229.1 L240.5,229.0 L241.4,229.3 L242.2,229.7 L243.0,230.8 L243.9,232.0 L244.7,233.3 L245.5,235.2 L246.3,236.5 L247.0,238.3 L247.9,240.6 L248.9,243.1 L249.6,244.3 L250.3,245.8 L251.2,247.0 L251.6,247.4 L252.0,247.8 L252.4,248.0 L253.3,248.2" fill="none" stroke="#de9233" stroke-width="1.15" stroke-linejoin="round" stroke-linecap="round"/>
<path d="M174.3,263.9 L174.8,263.9 L175.5,263.9 L176.3,263.9 L177.1,263.9 L177.8,263.8 L178.7,263.6 L179.6,263.4 L180.5,263.2 L181.2,263.2 L181.9,263.3 L182.7,263.3 L183.5,263.3 L184.2,263.2 L184.9,263.1 L185.6,262.9 L186.3,262.8 L187.0,262.5 L187.9,261.9 L188.7,262.2 L189.6,261.6 L190.3,260.3 L191.3,255.9 L192.2,251.1 L193.1,246.7 L194.1,244.4 L194.9,242.8 L195.8,242.1 L196.6,242.1 L197.4,241.8 L198.2,242.4 L198.9,243.4 L199.8,245.2 L200.8,246.9 L201.4,248.6 L202.1,250.0 L202.9,251.5 L203.7,252.7 L204.4,253.7 L205.1,254.5 L205.9,255.5 L206.7,256.4 L207.6,257.8 L208.3,258.1 L209.1,258.8 L209.9,259.4 L210.7,260.6 L211.5,261.2 L212.4,261.5 L213.1,261.5 L213.8,261.7 L214.5,262.0 L215.3,262.3 L216.1,262.4 L216.8,262.6 L217.5,262.7 L218.2,262.8 L219.1,262.9 L219.9,263.0 L220.8,263.1 L221.6,263.2 L222.3,263.2 L223.0,263.3 L222.9,263.4 L222.1,263.6 L222.4,263.7 L226.0,263.8 L226.4,263.8 L226.8,263.8 L227.3,263.8 L227.8,263.8 L228.3,263.8 L228.8,263.8 L229.4,263.8 L230.0,263.8 L230.6,263.8 L231.2,263.8 L231.9,263.8 L232.5,263.8 L233.2,263.8 L234.0,263.9 L234.7,263.9 L235.4,263.9 L236.2,263.9 L237.0,263.9 L237.8,263.9 L238.6,263.9 L239.4,263.9 L240.2,263.9 L241.1,263.9 L241.9,263.9 L242.8,263.9 L243.6,263.9 L244.5,263.9 L245.4,263.9 L246.2,263.9 L247.1,263.9 L248.0,263.9 L248.9,263.9 L249.7,263.9 L250.6,263.9 L251.5,263.9 L252.3,263.9 L253.2,263.9 L254.0,263.9 L254.9,263.9 L255.7,263.9 L256.5,263.9 L257.3,263.9 L258.1,263.9 L258.9,263.9 L259.7,263.9 L260.4,263.9 L261.2,263.9 L261.9,263.9 L262.6,263.9 L263.3,263.9 L264.0,263.9 L264.6,263.9 L265.2,263.9 L265.8,263.9 L266.4,263.9 L266.9,263.9 L267.4,263.9 L267.9,263.9 L268.4,263.9 L268.8,263.9 L269.2,263.9 L269.6,263.9 L269.6,263.9 L174.3,263.9 Z" fill="#90c4ee" fill-opacity="0.75" stroke="none"/>
<line x1="174.3" y1="263.6" x2="269.6" y2="263.6" stroke="#52a6dc" stroke-opacity="0.65" stroke-width="1"/>
<path d="M178.7,263.6 L179.6,263.4 L180.5,263.2 L181.2,263.2 L181.9,263.3 L182.7,263.3 L183.5,263.3 L184.2,263.2 L184.9,263.1 L185.6,262.9 L186.3,262.8 L187.0,262.5 L187.9,261.9 L188.7,262.2 L189.6,261.6 L190.3,260.3 L191.3,255.9 L192.2,251.1 L193.1,246.7 L194.1,244.4 L194.9,242.8 L195.8,242.1 L196.6,242.1 L197.4,241.8 L198.2,242.4 L198.9,243.4 L199.8,245.2 L200.8,246.9 L201.4,248.6 L202.1,250.0 L202.9,251.5 L203.7,252.7 L204.4,253.7 L205.1,254.5 L205.9,255.5 L206.7,256.4 L207.6,257.8 L208.3,258.1 L209.1,258.8 L209.9,259.4 L210.7,260.6 L211.5,261.2 L212.4,261.5 L213.1,261.5 L213.8,261.7 L214.5,262.0 L215.3,262.3 L216.1,262.4 L216.8,262.6 L217.5,262.7 L218.2,262.8 L219.1,262.9 L219.9,263.0 L220.8,263.1 L221.6,263.2 L222.3,263.2 L223.0,263.3 L222.9,263.4 L222.1,263.6" fill="none" stroke="#52a6dc" stroke-width="1.15" stroke-linejoin="round" stroke-linecap="round"/>
<path d="M174.3,279.5 L174.8,279.5 L175.6,279.5 L176.5,279.2 L177.2,278.6 L178.0,277.4 L178.9,276.8 L179.8,275.6 L180.5,275.5 L181.5,274.1 L182.3,272.1 L183.2,269.8 L183.9,268.6 L184.6,265.3 L185.3,262.7 L186.0,259.9 L186.9,257.5 L187.7,254.9 L188.5,252.8 L189.4,250.2 L190.2,249.7 L191.1,249.8 L192.0,252.2 L192.7,254.2 L193.5,257.4 L194.2,260.0 L195.0,263.2 L195.7,266.9 L196.4,269.8 L197.2,273.4 L198.0,275.8 L196.3,277.5 L194.7,278.4 L200.5,279.2 L200.9,279.2 L201.3,279.2 L201.7,279.3 L202.1,279.3 L202.6,279.3 L203.1,279.3 L203.5,279.3 L204.1,279.3 L204.6,279.3 L205.1,279.4 L205.7,279.4 L206.3,279.4 L206.9,279.4 L207.5,279.4 L208.1,279.4 L208.7,279.4 L209.4,279.4 L210.1,279.4 L210.7,279.5 L211.4,279.5 L212.1,279.5 L212.9,279.5 L213.6,279.5 L214.3,279.5 L215.1,279.5 L215.9,279.5 L216.6,279.5 L217.4,279.5 L218.2,279.5 L219.0,279.5 L219.8,279.5 L220.6,279.5 L221.4,279.5 L222.3,279.5 L223.1,279.5 L223.9,279.5 L224.8,279.5 L225.6,279.5 L226.5,279.5 L227.3,279.5 L228.2,279.5 L229.1,279.5 L230.0,279.5 L230.8,279.5 L231.7,279.5 L232.6,279.5 L233.5,279.5 L234.3,279.5 L235.2,279.5 L236.1,279.5 L237.0,279.5 L237.8,279.5 L238.7,279.5 L239.6,279.5 L240.5,279.5 L241.3,279.5 L242.2,279.5 L243.1,279.5 L243.9,279.5 L244.8,279.5 L245.6,279.5 L246.5,279.5 L247.3,279.5 L248.1,279.5 L248.9,279.5 L249.8,279.5 L250.6,279.5 L251.4,279.5 L252.2,279.5 L253.0,279.5 L253.7,279.5 L254.5,279.5 L255.2,279.5 L256.0,279.5 L256.7,279.5 L257.5,279.5 L258.2,279.5 L258.9,279.5 L259.5,279.5 L260.2,279.5 L260.9,279.5 L261.5,279.5 L262.2,279.5 L262.8,279.5 L263.4,279.5 L264.0,279.5 L264.5,279.5 L265.1,279.5 L265.6,279.5 L266.1,279.5 L266.6,279.5 L267.1,279.5 L267.6,279.5 L268.0,279.5 L268.4,279.5 L268.9,279.5 L269.2,279.5 L269.6,279.5 L269.6,279.5 L174.3,279.5 Z" fill="#df6354" fill-opacity="0.75" stroke="none"/>
<line x1="174.3" y1="279.2" x2="269.6" y2="279.2" stroke="#b02a40" stroke-opacity="0.65" stroke-width="1"/>
<path d="M176.5,279.2 L177.2,278.6 L178.0,277.4 L178.9,276.8 L179.8,275.6 L180.5,275.5 L181.5,274.1 L182.3,272.1 L183.2,269.8 L183.9,268.6 L184.6,265.3 L185.3,262.7 L186.0,259.9 L186.9,257.5 L187.7,254.9 L188.5,252.8 L189.4,250.2 L190.2,249.7 L191.1,249.8 L192.0,252.2 L192.7,254.2 L193.5,257.4 L194.2,260.0 L195.0,263.2 L195.7,266.9 L196.4,269.8 L197.2,273.4 L198.0,275.8 L196.3,277.5 L194.7,278.4 L200.5,279.2" fill="none" stroke="#b02a40" stroke-width="1.15" stroke-linejoin="round" stroke-linecap="round"/>
<line x1="173.80" y1="279.50" x2="269.60" y2="279.50" stroke="#231f20" stroke-width="1.2"/>
<line x1="175.05" y1="279.50" x2="175.05" y2="281.30" stroke="#231f20" stroke-width="0.7"/>
<line x1="178.05" y1="279.50" x2="178.05" y2="281.30" stroke="#231f20" stroke-width="0.7"/>
<line x1="180.38" y1="279.50" x2="180.38" y2="281.30" stroke="#231f20" stroke-width="0.7"/>
<line x1="182.28" y1="279.50" x2="182.28" y2="281.30" stroke="#231f20" stroke-width="0.7"/>
<line x1="183.88" y1="279.50" x2="183.88" y2="281.30" stroke="#231f20" stroke-width="0.7"/>
<line x1="185.27" y1="279.50" x2="185.27" y2="281.30" stroke="#231f20" stroke-width="0.7"/>
<line x1="186.50" y1="279.50" x2="186.50" y2="281.30" stroke="#231f20" stroke-width="0.7"/>
<line x1="187.60" y1="279.50" x2="187.60" y2="282.50" stroke="#231f20" stroke-width="0.9"/>
<line x1="194.82" y1="279.50" x2="194.82" y2="281.30" stroke="#231f20" stroke-width="0.7"/>
<line x1="199.05" y1="279.50" x2="199.05" y2="281.30" stroke="#231f20" stroke-width="0.7"/>
<line x1="202.05" y1="279.50" x2="202.05" y2="281.30" stroke="#231f20" stroke-width="0.7"/>
<line x1="204.38" y1="279.50" x2="204.38" y2="281.30" stroke="#231f20" stroke-width="0.7"/>
<line x1="206.28" y1="279.50" x2="206.28" y2="281.30" stroke="#231f20" stroke-width="0.7"/>
<line x1="207.88" y1="279.50" x2="207.88" y2="281.30" stroke="#231f20" stroke-width="0.7"/>
<line x1="209.27" y1="279.50" x2="209.27" y2="281.30" stroke="#231f20" stroke-width="0.7"/>
<line x1="210.50" y1="279.50" x2="210.50" y2="281.30" stroke="#231f20" stroke-width="0.7"/>
<line x1="211.60" y1="279.50" x2="211.60" y2="282.50" stroke="#231f20" stroke-width="0.9"/>
<line x1="218.82" y1="279.50" x2="218.82" y2="281.30" stroke="#231f20" stroke-width="0.7"/>
<line x1="223.05" y1="279.50" x2="223.05" y2="281.30" stroke="#231f20" stroke-width="0.7"/>
<line x1="226.05" y1="279.50" x2="226.05" y2="281.30" stroke="#231f20" stroke-width="0.7"/>
<line x1="228.38" y1="279.50" x2="228.38" y2="281.30" stroke="#231f20" stroke-width="0.7"/>
<line x1="230.28" y1="279.50" x2="230.28" y2="281.30" stroke="#231f20" stroke-width="0.7"/>
<line x1="231.88" y1="279.50" x2="231.88" y2="281.30" stroke="#231f20" stroke-width="0.7"/>
<line x1="233.27" y1="279.50" x2="233.27" y2="281.30" stroke="#231f20" stroke-width="0.7"/>
<line x1="234.50" y1="279.50" x2="234.50" y2="281.30" stroke="#231f20" stroke-width="0.7"/>
<line x1="235.60" y1="279.50" x2="235.60" y2="282.50" stroke="#231f20" stroke-width="0.9"/>
<line x1="242.82" y1="279.50" x2="242.82" y2="281.30" stroke="#231f20" stroke-width="0.7"/>
<line x1="247.05" y1="279.50" x2="247.05" y2="281.30" stroke="#231f20" stroke-width="0.7"/>
<line x1="250.05" y1="279.50" x2="250.05" y2="281.30" stroke="#231f20" stroke-width="0.7"/>
<line x1="252.38" y1="279.50" x2="252.38" y2="281.30" stroke="#231f20" stroke-width="0.7"/>
<line x1="254.28" y1="279.50" x2="254.28" y2="281.30" stroke="#231f20" stroke-width="0.7"/>
<line x1="255.88" y1="279.50" x2="255.88" y2="281.30" stroke="#231f20" stroke-width="0.7"/>
<line x1="257.27" y1="279.50" x2="257.27" y2="281.30" stroke="#231f20" stroke-width="0.7"/>
<line x1="258.50" y1="279.50" x2="258.50" y2="281.30" stroke="#231f20" stroke-width="0.7"/>
<line x1="259.60" y1="279.50" x2="259.60" y2="282.50" stroke="#231f20" stroke-width="0.9"/>
<line x1="266.82" y1="279.50" x2="266.82" y2="281.30" stroke="#231f20" stroke-width="0.7"/>
<text x="187.90" y="292.70" font-size="8" fill="#231f20" stroke="#231f20" stroke-width="0.25" text-anchor="middle">10<tspan font-size="5.60" dy="-3.36">2</tspan></text>
<text x="211.90" y="292.70" font-size="8" fill="#231f20" stroke="#231f20" stroke-width="0.25" text-anchor="middle">10<tspan font-size="5.60" dy="-3.36">3</tspan></text>
<text x="235.90" y="292.70" font-size="8" fill="#231f20" stroke="#231f20" stroke-width="0.25" text-anchor="middle">10<tspan font-size="5.60" dy="-3.36">4</tspan></text>
<text x="259.90" y="292.70" font-size="8" fill="#231f20" stroke="#231f20" stroke-width="0.25" text-anchor="middle">10<tspan font-size="5.60" dy="-3.36">5</tspan></text>
<text x="178.70" y="306.60" font-size="9.8" fill="#231f20" stroke="#231f20" stroke-width="0.4" textLength="86.6" lengthAdjust="spacingAndGlyphs">SiaFind lectenz binding (PE)</text>
<text x="277.00" y="196.60" font-size="8" fill="#231f20" stroke="#231f20" stroke-width="0.22">Gne-KO cells</text>
<text x="277.00" y="213.60" font-size="8.4" fill="#bb2a46" stroke="#bb2a46" stroke-width="0.22">+P735R</text>
<text x="277.00" y="228.30" font-size="8.4" fill="#bb2a46" stroke="#bb2a46" stroke-width="0.22">+C594Y</text>
<text x="277.00" y="242.90" font-size="8" fill="#231f20" stroke="#231f20" stroke-width="0.22">+WT</text>
<text x="277.00" y="257.50" font-size="8" fill="#231f20" stroke="#231f20" stroke-width="0.22">+empty</text>
<text x="277.00" y="271.70" font-size="8" fill="#231f20" stroke="#231f20" stroke-width="0.22">Unstained</text>
<line x1="311.50" y1="202.70" x2="311.50" y2="261.70" stroke="#231f20" stroke-width="1.1"/>
<text x="416.00" y="181.20" font-size="9.5" fill="#231f20" stroke="#231f20" stroke-width="0.22" text-anchor="middle">MFI of SiaFind</text>
<text x="416.00" y="192.70" font-size="9.5" fill="#231f20" stroke="#231f20" stroke-width="0.22" text-anchor="middle">Lectenz binding</text>
<line x1="370.50" y1="200.00" x2="370.50" y2="279.80" stroke="#231f20" stroke-width="1.2"/>
<line x1="370.00" y1="279.30" x2="461.00" y2="279.30" stroke="#231f20" stroke-width="1.2"/>
<line x1="367.80" y1="279.30" x2="370.50" y2="279.30" stroke="#231f20" stroke-width="1"/>
<text x="364.00" y="282.30" font-size="8.5" fill="#231f20" stroke="#231f20" stroke-width="0.22" text-anchor="end">0</text>
<line x1="367.80" y1="264.08" x2="370.50" y2="264.08" stroke="#231f20" stroke-width="1"/>
<text x="364.00" y="267.08" font-size="8.5" fill="#231f20" stroke="#231f20" stroke-width="0.22" text-anchor="end">10000</text>
<line x1="367.80" y1="248.86" x2="370.50" y2="248.86" stroke="#231f20" stroke-width="1"/>
<text x="364.00" y="251.86" font-size="8.5" fill="#231f20" stroke="#231f20" stroke-width="0.22" text-anchor="end">20000</text>
<line x1="367.80" y1="233.64" x2="370.50" y2="233.64" stroke="#231f20" stroke-width="1"/>
<text x="364.00" y="236.64" font-size="8.5" fill="#231f20" stroke="#231f20" stroke-width="0.22" text-anchor="end">30000</text>
<line x1="367.80" y1="218.42" x2="370.50" y2="218.42" stroke="#231f20" stroke-width="1"/>
<text x="364.00" y="221.42" font-size="8.5" fill="#231f20" stroke="#231f20" stroke-width="0.22" text-anchor="end">40000</text>
<line x1="367.80" y1="203.20" x2="370.50" y2="203.20" stroke="#231f20" stroke-width="1"/>
<text x="364.00" y="206.20" font-size="8.5" fill="#231f20" stroke="#231f20" stroke-width="0.22" text-anchor="end">50000</text>
<line x1="385.00" y1="279.30" x2="385.00" y2="281.90" stroke="#231f20" stroke-width="0.9"/>
<line x1="405.80" y1="279.30" x2="405.80" y2="281.90" stroke="#231f20" stroke-width="0.9"/>
<line x1="426.50" y1="279.30" x2="426.50" y2="281.90" stroke="#231f20" stroke-width="0.9"/>
<line x1="447.30" y1="279.30" x2="447.30" y2="281.90" stroke="#231f20" stroke-width="0.9"/>
<rect x="378.70" y="278.08" width="12.60" height="1.22" fill="#c9c9cd"/>
<rect x="399.50" y="229.07" width="12.60" height="50.23" fill="#c9c9cd"/>
<rect x="420.20" y="274.73" width="12.60" height="4.57" fill="#c9c9cd"/>
<rect x="441.00" y="278.39" width="12.60" height="0.91" fill="#c9c9cd"/>
<line x1="405.80" y1="222.22" x2="405.80" y2="235.92" stroke="#231f20" stroke-width="0.9"/>
<line x1="402.50" y1="222.22" x2="409.20" y2="222.22" stroke="#231f20" stroke-width="0.9"/>
<line x1="402.50" y1="235.92" x2="409.20" y2="235.92" stroke="#231f20" stroke-width="0.9"/>
<rect x="401.10" y="219.66" width="3.00" height="3.00" fill="#111"/>
<rect x="407.50" y="222.70" width="3.00" height="3.00" fill="#111"/>
<rect x="404.00" y="240.36" width="3.00" height="3.00" fill="#111"/>
<circle cx="382.5" cy="278.39" r="1.2" fill="#111"/>
<circle cx="385" cy="277.93" r="1.2" fill="#111"/>
<circle cx="387.5" cy="277.78" r="1.2" fill="#111"/>
<path d="M422.1,273.53 L424.9,273.53 L423.5,275.93 Z" fill="#111"/>
<path d="M425.1,273.38 L427.9,273.38 L426.5,275.78 Z" fill="#111"/>
<path d="M428.1,273.53 L430.9,273.53 L429.5,275.93 Z" fill="#111"/>
<line x1="423.00" y1="274.73" x2="430.00" y2="274.73" stroke="#231f20" stroke-width="0.8"/>
<path d="M442.90000000000003,277.19 L445.7,277.19 L444.3,279.59 Z" fill="#111"/>
<path d="M445.90000000000003,277.49 L448.7,277.49 L447.3,279.89 Z" fill="#111"/>
<path d="M448.90000000000003,277.03 L451.7,277.03 L450.3,279.43 Z" fill="#111"/>
<path d="M383.8,216.39999999999998 L383.8,213.2 L406.3,213.2 L406.3,216.39999999999998" fill="none" stroke="#231f20" stroke-width="0.8"/>
<text x="395.05" y="214.50" font-size="7.5" fill="#111" stroke="#111" stroke-width="0.3" text-anchor="middle">**</text>
<path d="M383.8,208.6 L383.8,205.4 L426.2,205.4 L426.2,208.6" fill="none" stroke="#231f20" stroke-width="0.8"/>
<text x="405.00" y="205.20" font-size="7.5" fill="#111" stroke="#111" stroke-width="0.3" text-anchor="middle">**</text>
<path d="M426.2,270.7 L426.2,267.7 L448.7,267.7 L448.7,270.7" fill="none" stroke="#231f20" stroke-width="0.8"/>
<text x="437.45" y="266.60" font-size="7.5" fill="#111" stroke="#111" stroke-width="0.3" text-anchor="middle">***</text>
<text x="388.9" y="290" font-size="8.3" fill="#231f20" stroke="#231f20" stroke-width="0.22" text-anchor="end" transform="rotate(-45 388.9 290)">+empty</text>
<text x="408.9" y="290" font-size="8.3" fill="#231f20" stroke="#231f20" stroke-width="0.22" text-anchor="end" transform="rotate(-45 408.9 290)">+WT</text>
<text x="430" y="290" font-size="8.3" fill="#bb2a46" stroke="#bb2a46" stroke-width="0.22" text-anchor="end" transform="rotate(-45 430 290)">+C594Y</text>
<text x="451.2" y="290" font-size="8.3" fill="#bb2a46" stroke="#bb2a46" stroke-width="0.22" text-anchor="end" transform="rotate(-45 451.2 290)">+P735R</text>
<rect x="7.30" y="345.60" width="82.40" height="83.00" fill="#0a0508"/>
<rect x="91.50" y="345.60" width="83.10" height="83.00" fill="#0a0508"/>
<rect x="176.30" y="345.60" width="82.40" height="83.00" fill="#0a0508"/>
<rect x="260.70" y="345.60" width="83.00" height="83.00" fill="#0a0508"/>
<rect x="345.20" y="345.60" width="83.40" height="83.00" fill="#0a0508"/>
<rect x="430.00" y="345.60" width="82.80" height="83.00" fill="#0a0508"/>
<defs>
<clipPath id="cp0"><rect x="7.3" y="345.6" width="82.4" height="83"/></clipPath>
<clipPath id="cp1"><rect x="91.5" y="345.6" width="83.1" height="83"/></clipPath>
<clipPath id="cp2"><rect x="176.3" y="345.6" width="82.4" height="83"/></clipPath>
<clipPath id="cp3"><rect x="260.7" y="345.6" width="83" height="83"/></clipPath>
<clipPath id="cp4"><rect x="345.2" y="345.6" width="83.4" height="83"/></clipPath>
<clipPath id="cp5"><rect x="430" y="345.6" width="82.8" height="83"/></clipPath>
<filter id="texg" x="-10%" y="-10%" width="120%" height="120%">
<feGaussianBlur in="SourceGraphic" stdDeviation="0.7" result="b"/>
<feTurbulence type="fractalNoise" baseFrequency="0.22 0.3" numOctaves="3" seed="4" result="n"/>
<feColorMatrix in="n" type="saturate" values="0" result="ng"/>
<feComposite in="b" in2="ng" operator="arithmetic" k1="1.0" k2="0.55" k3="0" k4="0"/>
</filter>
<filter id="texr" x="-10%" y="-10%" width="120%" height="120%">
<feGaussianBlur in="SourceGraphic" stdDeviation="1.4" result="b"/>
<feTurbulence type="fractalNoise" baseFrequency="0.2" numOctaves="3" seed="9" result="n"/>
<feColorMatrix in="n" type="saturate" values="0" result="ng"/>
<feComposite in="b" in2="ng" operator="arithmetic" k1="1.0" k2="0.5" k3="0" k4="0"/>
</filter>
</defs>
<g clip-path="url(#cp0)">
<g filter="url(#texg)">
<path d="M39.9,361.1 C41.6,360.8 44.7,361.0 47.3,361.7 C49.9,362.4 52.5,364.0 55.4,365.1 C58.3,366.2 62.6,366.8 64.8,368.5 C67.0,370.2 67.1,373.4 68.8,375.2 C70.5,377.0 73.6,377.4 74.9,379.2 C76.2,381.0 76.8,383.5 76.9,386.0 C77.0,388.5 76.0,391.5 75.6,394.0 C75.1,396.5 74.9,398.3 74.2,400.8 C73.5,403.3 72.6,406.6 71.5,408.8 C70.4,411.0 69.5,412.9 67.5,414.2 C65.5,415.5 61.9,416.7 59.4,416.9 C56.9,417.1 54.9,416.7 52.7,415.6 C50.5,414.5 48.2,411.6 46.0,410.2 C43.8,408.8 41.0,408.9 39.2,407.5 C37.4,406.1 36.8,404.4 35.2,402.1 C33.6,399.9 31.6,396.5 29.8,394.0 C28.0,391.5 26.0,389.7 24.4,387.3 C22.8,384.9 20.2,381.7 20.4,379.9 C20.6,378.1 24.0,377.5 25.8,376.5 C27.6,375.5 29.6,375.1 31.2,373.8 C32.8,372.5 34.2,370.2 35.2,368.5 C36.2,366.8 36.4,364.9 37.2,363.7 C38.0,362.5 38.2,361.4 39.9,361.1 Z" fill="#4ab632"/>
<path d="M39.9,361.1 C41.6,360.8 44.7,361.0 47.3,361.7 C49.9,362.4 52.5,364.0 55.4,365.1 C58.3,366.2 62.6,366.8 64.8,368.5 C67.0,370.2 67.1,373.4 68.8,375.2 C70.5,377.0 73.6,377.4 74.9,379.2 C76.2,381.0 76.8,383.5 76.9,386.0 C77.0,388.5 76.0,391.5 75.6,394.0 C75.1,396.5 74.9,398.3 74.2,400.8 C73.5,403.3 72.6,406.6 71.5,408.8 C70.4,411.0 69.5,412.9 67.5,414.2 C65.5,415.5 61.9,416.7 59.4,416.9 C56.9,417.1 54.9,416.7 52.7,415.6 C50.5,414.5 48.2,411.6 46.0,410.2 C43.8,408.8 41.0,408.9 39.2,407.5 C37.4,406.1 36.8,404.4 35.2,402.1 C33.6,399.9 31.6,396.5 29.8,394.0 C28.0,391.5 26.0,389.7 24.4,387.3 C22.8,384.9 20.2,381.7 20.4,379.9 C20.6,378.1 24.0,377.5 25.8,376.5 C27.6,375.5 29.6,375.1 31.2,373.8 C32.8,372.5 34.2,370.2 35.2,368.5 C36.2,366.8 36.4,364.9 37.2,363.7 C38.0,362.5 38.2,361.4 39.9,361.1 Z" fill="none" stroke="#7ae052" stroke-width="2.2"/>
<ellipse cx="51" cy="388" rx="15" ry="24" transform="rotate(-28 51 388)" fill="#9a6a22"/>
<ellipse cx="51" cy="388" rx="12.5" ry="21" transform="rotate(-28 51 388)" fill="#c45c1c"/>
<ellipse cx="55" cy="396" rx="6" ry="9" transform="rotate(-28 55 396)" fill="#d06a20"/>
<path d="M38,371 Q52,364 62,377 M40,399 Q52,410 63,403 M35,386 Q39,396 45,401 M60,380 Q64,392 60,400" stroke="#58bc3a" stroke-width="1.2" fill="none"/>
</g>
<g filter="url(#blur1)">
<ellipse cx="45.3" cy="377.2" rx="6.8" ry="4.3" transform="rotate(-12 45.3 377.2)" fill="#5030b8"/>
<ellipse cx="48.6" cy="390" rx="7.2" ry="6.8" fill="#5434b6"/>
<ellipse cx="50" cy="391" rx="2.6" ry="2.4" fill="#7c78e4"/>
<ellipse cx="47.5" cy="376" rx="2.2" ry="1.3" fill="#7c78e4"/>
</g>
<path d="M81.5,345.6 C83,350 85,355 88,359.5 C89.5,357 89.7,352 89.7,345.6 Z" fill="#3c9e32" filter="url(#blur1)"/>
</g>
<g clip-path="url(#cp1)">
<g filter="url(#texr)">
<path d="M124.4,362.1 C126.1,361.8 129.2,362.0 131.8,362.7 C134.4,363.4 137.0,365.0 139.9,366.1 C142.8,367.2 147.1,367.8 149.3,369.5 C151.5,371.2 151.6,374.4 153.3,376.2 C155.0,378.0 158.1,378.4 159.4,380.2 C160.8,382.0 161.3,384.5 161.4,387.0 C161.5,389.5 160.6,392.5 160.1,395.0 C159.6,397.5 159.4,399.3 158.7,401.8 C158.0,404.3 157.1,407.6 156.0,409.8 C154.9,412.0 154.0,413.9 152.0,415.2 C150.0,416.5 146.4,417.7 143.9,417.9 C141.4,418.1 139.4,417.7 137.2,416.6 C135.0,415.5 132.8,412.6 130.5,411.2 C128.2,409.8 125.5,409.9 123.7,408.5 C121.9,407.1 121.3,405.4 119.7,403.1 C118.1,400.9 116.1,397.5 114.3,395.0 C112.5,392.5 110.5,390.7 108.9,388.3 C107.3,385.9 104.7,382.7 104.9,380.9 C105.1,379.1 108.5,378.5 110.3,377.5 C112.1,376.5 114.1,376.1 115.7,374.8 C117.3,373.5 118.7,371.2 119.7,369.5 C120.7,367.8 120.9,365.9 121.7,364.7 C122.5,363.5 122.7,362.4 124.4,362.1 Z" fill="#5c0808"/>
<ellipse cx="133" cy="386" rx="14" ry="22" transform="rotate(-22 133 386)" fill="#b81414"/>
<ellipse cx="141" cy="393" rx="11" ry="15" transform="rotate(-22 141 393)" fill="#a01010"/>
</g>
<g filter="url(#blur2)">
<ellipse cx="130.3" cy="377.5" rx="5.6" ry="3.8" fill="#780a0a"/>
<ellipse cx="133" cy="389.5" rx="6" ry="5.8" fill="#820b0b"/>
</g>
</g>
<g clip-path="url(#cp2)">
<g filter="url(#texg)">
<path d="M179.2,377.6 C179.9,376.3 181.1,374.4 183.3,372.8 C185.5,371.2 189.1,369.1 192.2,367.9 C195.3,366.7 198.3,366.0 201.8,365.5 C205.3,365.0 209.4,364.9 213.2,365.0 C217.0,365.1 221.6,365.7 224.5,366.3 C227.4,366.9 229.3,367.6 230.9,368.7 C232.5,369.8 232.6,371.6 234.2,372.8 C235.8,374.0 237.9,374.9 240.6,376.0 C243.3,377.1 247.9,377.8 250.3,379.2 C252.7,380.6 254.1,382.2 255.2,384.1 C256.3,386.0 257.1,388.4 256.8,390.5 C256.5,392.6 255.1,394.8 253.5,397.0 C251.9,399.2 249.8,401.6 247.1,403.5 C244.4,405.4 241.2,407.1 237.4,408.3 C233.6,409.5 228.5,410.4 224.5,410.7 C220.5,411.0 216.4,410.6 213.2,409.9 C210.0,409.2 207.8,408.3 205.1,406.7 C202.4,405.1 199.4,402.1 197.0,400.2 C194.6,398.3 192.4,396.7 190.5,395.4 C188.6,394.1 186.4,393.5 185.7,392.2 C185.0,390.9 187.0,388.6 186.5,387.3 C186.0,386.0 183.7,385.2 182.5,384.1 C181.3,383.0 179.8,381.9 179.2,380.8 C178.6,379.7 178.5,378.9 179.2,377.6 Z" fill="#44ac2e"/>
<path d="M179.2,377.6 C179.9,376.3 181.1,374.4 183.3,372.8 C185.5,371.2 189.1,369.1 192.2,367.9 C195.3,366.7 198.3,366.0 201.8,365.5 C205.3,365.0 209.4,364.9 213.2,365.0 C217.0,365.1 221.6,365.7 224.5,366.3 C227.4,366.9 229.3,367.6 230.9,368.7 C232.5,369.8 232.6,371.6 234.2,372.8 C235.8,374.0 237.9,374.9 240.6,376.0 C243.3,377.1 247.9,377.8 250.3,379.2 C252.7,380.6 254.1,382.2 255.2,384.1 C256.3,386.0 257.1,388.4 256.8,390.5 C256.5,392.6 255.1,394.8 253.5,397.0 C251.9,399.2 249.8,401.6 247.1,403.5 C244.4,405.4 241.2,407.1 237.4,408.3 C233.6,409.5 228.5,410.4 224.5,410.7 C220.5,411.0 216.4,410.6 213.2,409.9 C210.0,409.2 207.8,408.3 205.1,406.7 C202.4,405.1 199.4,402.1 197.0,400.2 C194.6,398.3 192.4,396.7 190.5,395.4 C188.6,394.1 186.4,393.5 185.7,392.2 C185.0,390.9 187.0,388.6 186.5,387.3 C186.0,386.0 183.7,385.2 182.5,384.1 C181.3,383.0 179.8,381.9 179.2,380.8 C178.6,379.7 178.5,378.9 179.2,377.6 Z" fill="none" stroke="#80e458" stroke-width="2.2"/>
<ellipse cx="213" cy="389" rx="24" ry="11" transform="rotate(18 213 389)" fill="#6a6426"/>
<path d="M188,380 Q212,370 252,390" stroke="#58b838" stroke-width="1.2" fill="none"/>
<path d="M196,398 Q222,386 250,381" stroke="#50b034" stroke-width="1.1" fill="none"/>
<path d="M205,372 Q225,378 240,400" stroke="#4aa830" stroke-width="1" fill="none"/>
</g>
<g filter="url(#blur1)">
<ellipse cx="199.4" cy="384.9" rx="6.6" ry="6.3" fill="#5232b8"/>
<ellipse cx="196.5" cy="381.8" rx="3" ry="2.4" fill="#7c98f4"/>
<ellipse cx="226.1" cy="393.8" rx="7.8" ry="5.6" fill="#5434b4"/>
</g>
</g>
<g clip-path="url(#cp3)">
<g filter="url(#texr)">
<path d="M263.6,378.1 C264.3,376.8 265.5,374.9 267.7,373.3 C269.9,371.7 273.5,369.6 276.6,368.4 C279.7,367.2 282.7,366.5 286.2,366.0 C289.7,365.5 293.8,365.4 297.6,365.5 C301.4,365.6 305.9,366.2 308.9,366.8 C311.8,367.4 313.7,368.1 315.3,369.2 C316.9,370.3 317.0,372.1 318.6,373.3 C320.2,374.5 322.3,375.4 325.0,376.5 C327.7,377.6 332.3,378.3 334.7,379.7 C337.1,381.1 338.5,382.7 339.6,384.6 C340.7,386.5 341.5,388.9 341.2,391.0 C340.9,393.1 339.5,395.3 337.9,397.5 C336.3,399.7 334.2,402.1 331.5,404.0 C328.8,405.9 325.6,407.6 321.8,408.8 C318.0,410.0 312.9,410.9 308.9,411.2 C304.9,411.5 300.8,411.1 297.6,410.4 C294.4,409.7 292.2,408.8 289.5,407.2 C286.8,405.6 283.8,402.6 281.4,400.7 C279.0,398.8 276.8,397.2 274.9,395.9 C273.0,394.6 270.8,394.0 270.1,392.7 C269.4,391.4 271.4,389.1 270.9,387.8 C270.4,386.5 268.1,385.7 266.9,384.6 C265.7,383.5 264.2,382.4 263.6,381.3 C263.1,380.2 262.9,379.4 263.6,378.1 Z" fill="#700a0a"/>
<ellipse cx="285" cy="383" rx="11" ry="9" fill="#860d0d"/>
<ellipse cx="312" cy="396" rx="15" ry="9" fill="#820c0c"/>
<path d="M272,392 Q290,380 334,386" stroke="#3a0404" stroke-width="1.6" fill="none"/>
</g>
</g>
<g clip-path="url(#cp4)">
<g filter="url(#texg)">
<path d="M348.2,382.3 C348.5,379.1 348.7,374.2 349.8,371.0 C350.9,367.8 352.8,365.2 354.7,362.9 C356.6,360.6 358.5,358.8 361.2,357.3 C363.9,355.8 367.0,354.7 370.8,354.0 C374.6,353.3 380.3,352.8 383.8,353.2 C387.3,353.6 389.4,354.9 391.8,356.5 C394.2,358.1 396.4,360.5 398.3,362.9 C400.2,365.3 401.9,368.3 403.2,371.0 C404.5,373.7 405.7,377.0 406.4,379.1 C407.1,381.2 408.0,383.1 407.2,383.9 C406.4,384.7 403.8,384.2 401.5,383.9 C399.2,383.6 395.9,382.2 393.5,382.3 C391.1,382.4 389.2,383.4 387.0,384.7 C384.8,386.0 382.4,388.6 380.5,390.4 C378.6,392.1 377.6,393.8 375.7,395.2 C373.8,396.6 371.6,397.7 369.2,398.5 C366.8,399.3 363.9,400.4 361.2,400.1 C358.5,399.8 355.3,398.4 353.1,396.8 C350.9,395.2 349.0,392.8 348.2,390.4 C347.4,388.0 347.9,385.5 348.2,382.3 Z" fill="#48b230"/>
<path d="M348.2,382.3 C348.5,379.1 348.7,374.2 349.8,371.0 C350.9,367.8 352.8,365.2 354.7,362.9 C356.6,360.6 358.5,358.8 361.2,357.3 C363.9,355.8 367.0,354.7 370.8,354.0 C374.6,353.3 380.3,352.8 383.8,353.2 C387.3,353.6 389.4,354.9 391.8,356.5 C394.2,358.1 396.4,360.5 398.3,362.9 C400.2,365.3 401.9,368.3 403.2,371.0 C404.5,373.7 405.7,377.0 406.4,379.1 C407.1,381.2 408.0,383.1 407.2,383.9 C406.4,384.7 403.8,384.2 401.5,383.9 C399.2,383.6 395.9,382.2 393.5,382.3 C391.1,382.4 389.2,383.4 387.0,384.7 C384.8,386.0 382.4,388.6 380.5,390.4 C378.6,392.1 377.6,393.8 375.7,395.2 C373.8,396.6 371.6,397.7 369.2,398.5 C366.8,399.3 363.9,400.4 361.2,400.1 C358.5,399.8 355.3,398.4 353.1,396.8 C350.9,395.2 349.0,392.8 348.2,390.4 C347.4,388.0 347.9,385.5 348.2,382.3 Z" fill="none" stroke="#84e05c" stroke-width="2"/>
<path d="M372.0,396.0 C371.5,393.4 374.0,390.8 376.0,389.0 C378.0,387.2 381.2,386.0 384.0,385.5 C386.8,385.0 390.1,385.5 393.0,386.0 C395.9,386.5 398.7,387.3 401.5,388.3 C404.3,389.3 406.6,390.6 409.6,392.0 C412.6,393.4 416.7,395.2 419.3,396.8 C421.9,398.4 424.2,399.8 425.0,401.7 C425.8,403.6 425.4,406.3 424.2,408.2 C423.0,410.1 420.4,411.7 417.7,413.0 C415.0,414.3 411.5,415.4 408.0,416.2 C404.5,417.0 400.2,418.0 396.7,417.9 C393.2,417.8 389.4,416.5 387.0,415.4 C384.6,414.3 383.6,413.1 382.2,411.4 C380.8,409.6 380.6,407.5 378.9,404.9 C377.2,402.3 372.5,398.6 372.0,396.0 Z" fill="#48b230"/>
<path d="M372.0,396.0 C371.5,393.4 374.0,390.8 376.0,389.0 C378.0,387.2 381.2,386.0 384.0,385.5 C386.8,385.0 390.1,385.5 393.0,386.0 C395.9,386.5 398.7,387.3 401.5,388.3 C404.3,389.3 406.6,390.6 409.6,392.0 C412.6,393.4 416.7,395.2 419.3,396.8 C421.9,398.4 424.2,399.8 425.0,401.7 C425.8,403.6 425.4,406.3 424.2,408.2 C423.0,410.1 420.4,411.7 417.7,413.0 C415.0,414.3 411.5,415.4 408.0,416.2 C404.5,417.0 400.2,418.0 396.7,417.9 C393.2,417.8 389.4,416.5 387.0,415.4 C384.6,414.3 383.6,413.1 382.2,411.4 C380.8,409.6 380.6,407.5 378.9,404.9 C377.2,402.3 372.5,398.6 372.0,396.0 Z" fill="none" stroke="#84e05c" stroke-width="2"/>
<ellipse cx="382" cy="374" rx="14" ry="10" fill="#5a8a2a"/>
<ellipse cx="396" cy="405" rx="13" ry="8" fill="#6a6a28"/>
</g>
<g filter="url(#blur1)">
<ellipse cx="372.5" cy="381.5" rx="8" ry="8.8" fill="#5232b8"/>
<ellipse cx="376.5" cy="385" rx="1.8" ry="3.5" fill="#7890f0"/>
<ellipse cx="395.1" cy="406.5" rx="8" ry="6.3" fill="#5434b4"/>
</g>
</g>
<g clip-path="url(#cp5)">
<g filter="url(#texr)">
<path d="M433.2,381.3 C433.5,378.1 433.7,373.2 434.8,370.0 C435.9,366.8 437.8,364.2 439.7,361.9 C441.6,359.6 443.5,357.8 446.2,356.3 C448.9,354.8 452.0,353.7 455.8,353.0 C459.6,352.3 465.3,351.8 468.8,352.2 C472.3,352.6 474.4,353.9 476.8,355.5 C479.2,357.1 481.4,359.5 483.3,361.9 C485.2,364.3 486.9,367.3 488.2,370.0 C489.5,372.7 490.7,376.0 491.4,378.1 C492.1,380.2 493.0,382.1 492.2,382.9 C491.4,383.7 488.8,383.2 486.5,382.9 C484.2,382.6 480.9,381.2 478.5,381.3 C476.1,381.4 474.2,382.4 472.0,383.7 C469.8,385.0 467.4,387.6 465.5,389.4 C463.6,391.1 462.6,392.8 460.7,394.2 C458.8,395.6 456.6,396.7 454.2,397.5 C451.8,398.3 448.9,399.4 446.2,399.1 C443.5,398.8 440.3,397.4 438.1,395.8 C435.9,394.2 434.0,391.8 433.2,389.4 C432.4,387.0 432.9,384.5 433.2,381.3 Z" fill="#5a0808"/>
<path d="M457.0,395.0 C456.5,392.4 459.0,389.8 461.0,388.0 C463.0,386.2 466.2,385.0 469.0,384.5 C471.8,384.0 475.1,384.5 478.0,385.0 C480.9,385.5 483.7,386.3 486.5,387.3 C489.3,388.3 491.6,389.6 494.6,391.0 C497.6,392.4 501.7,394.2 504.3,395.8 C506.9,397.4 509.2,398.8 510.0,400.7 C510.8,402.6 510.4,405.3 509.2,407.2 C508.0,409.1 505.4,410.7 502.7,412.0 C500.0,413.3 496.5,414.4 493.0,415.2 C489.5,416.0 485.2,417.0 481.7,416.9 C478.2,416.8 474.4,415.5 472.0,414.4 C469.6,413.3 468.6,412.1 467.2,410.4 C465.8,408.6 465.6,406.5 463.9,403.9 C462.2,401.3 457.5,397.6 457.0,395.0 Z" fill="#5a0808"/>
<ellipse cx="462" cy="377" rx="15" ry="13" fill="#680a0a"/>
<ellipse cx="486" cy="405" rx="15" ry="8" fill="#660a0a"/>
</g>
</g>
<text x="10.50" y="355.90" font-size="8.4" fill="#fff" stroke="#fff" stroke-width="0.15">GNE<tspan font-size="5.8" dy="-3.8">WT</tspan></text>
<text x="179.30" y="355.90" font-size="8.4" fill="#fff" stroke="#fff" stroke-width="0.15">GNE<tspan font-size="5.8" dy="-3.8">C594Y</tspan></text>
<text x="349.00" y="355.90" font-size="8.4" fill="#fff" stroke="#fff" stroke-width="0.15">GNE<tspan font-size="5.8" dy="-3.8">P735R</tspan></text>
<text x="8.30" y="424.60" font-size="8" fill="#231f20" stroke="#231f20" stroke-width="0.22"><tspan fill="#47987a" stroke="#47987a">F-actin</tspan><tspan fill="#d42424" stroke="#d42424">Flag</tspan><tspan fill="#5a3cb8" stroke="#5a3cb8">DAPI</tspan></text>
<text x="98.50" y="425.00" font-size="8" fill="#c42222" stroke="#c42222" stroke-width="0.22">Flag</text>
<text x="436.80" y="417.20" font-size="8" fill="#fff" stroke="#fff" stroke-width="0.22">5 μm</text>
<rect x="438.40" y="420.80" width="14.20" height="1.90" fill="#fff"/>
<text x="68.70" y="470.50" font-size="8.3" fill="#231f20" stroke="#231f20" stroke-width="0.12" text-anchor="middle">UDP-GlcNAc</text>
<text x="38.70" y="481.60" font-size="8.3" fill="#4aa3d8" stroke="#4aa3d8" stroke-width="0.12" font-style="italic">GNE</text>
<text x="69.80" y="481.60" font-size="8.3" fill="#4aa3d8" stroke="#4aa3d8" stroke-width="0.12">epimerase</text>
<text x="64.20" y="493.20" font-size="8.3" fill="#231f20" stroke="#231f20" stroke-width="0.12" text-anchor="middle">ManNAc</text>
<text x="38.70" y="504.20" font-size="8.3" fill="#bb2a46" stroke="#bb2a46" stroke-width="0.12" font-style="italic">GNE</text>
<text x="69.80" y="504.20" font-size="8.3" fill="#bb2a46" stroke="#bb2a46" stroke-width="0.12">kinase</text>
<text x="64.20" y="515.50" font-size="8.3" fill="#231f20" stroke="#231f20" stroke-width="0.12" text-anchor="middle">ManNAc-6-P</text>
<text x="69.50" y="526.70" font-size="8.3" fill="#231f20" stroke="#231f20" stroke-width="0.12" font-style="italic">NANS</text>
<text x="64.50" y="538.00" font-size="8.3" fill="#231f20" stroke="#231f20" stroke-width="0.12" text-anchor="middle">SA-9-P</text>
<text x="69.50" y="548.30" font-size="8.3" fill="#231f20" stroke="#231f20" stroke-width="0.12" font-style="italic">NANP</text>
<text x="12.00" y="549.00" font-size="8.3" fill="#231f20" stroke="#231f20" stroke-width="0.12" textLength="35" lengthAdjust="spacingAndGlyphs">Lysosome</text>
<text x="6.70" y="559.60" font-size="8.3" fill="#231f20" stroke="#231f20" stroke-width="0.12">SA</text>
<text x="58.70" y="559.60" font-size="8.3" fill="#231f20" stroke="#231f20" stroke-width="0.12">SA</text>
<text x="104.50" y="559.60" font-size="8.3" fill="#231f20" stroke="#231f20" stroke-width="0.12">CMP-SA</text>
<text x="24.80" y="567.70" font-size="8.3" fill="#231f20" stroke="#231f20" stroke-width="0.12">Salvage</text>
<line x1="64.60" y1="474.50" x2="64.60" y2="480.50" stroke="#111" stroke-width="1"/>
<path d="M62.39999999999999,479.2 L66.8,479.2 L64.6,483.5 Z" fill="#111"/>
<line x1="64.60" y1="497.00" x2="64.60" y2="503.00" stroke="#111" stroke-width="1"/>
<path d="M62.39999999999999,501.7 L66.8,501.7 L64.6,506 Z" fill="#111"/>
<line x1="64.60" y1="519.80" x2="64.60" y2="524.50" stroke="#111" stroke-width="1"/>
<path d="M62.39999999999999,523.2 L66.8,523.2 L64.6,527.5 Z" fill="#111"/>
<line x1="64.60" y1="541.50" x2="64.60" y2="546.50" stroke="#111" stroke-width="1"/>
<path d="M62.39999999999999,545.2 L66.8,545.2 L64.6,549.5 Z" fill="#111"/>
<line x1="23.00" y1="556.70" x2="51.00" y2="556.70" stroke="#111" stroke-width="1"/>
<path d="M49.7,554.6 L49.7,558.8000000000001 L54,556.7 Z" fill="#111"/>
<line x1="78.00" y1="556.70" x2="96.60" y2="556.70" stroke="#111" stroke-width="1"/>
<path d="M95.3,554.6 L95.3,558.8000000000001 L99.6,556.7 Z" fill="#111"/>
<line x1="173.80" y1="462.00" x2="173.80" y2="557.00" stroke="#2a1a1a" stroke-width="1.1"/>
<path d="M174.3,494.8 L174.7,494.8 L175.2,494.8 L175.7,494.8 L176.3,494.8 L176.9,494.8 L177.6,494.8 L178.4,494.8 L179.2,494.8 L180.0,494.8 L180.8,494.8 L181.6,494.8 L182.5,494.8 L183.4,494.8 L184.3,494.8 L185.2,494.8 L186.0,494.8 L186.9,494.8 L187.7,494.8 L188.6,494.8 L189.4,494.8 L190.1,494.8 L190.8,494.8 L191.5,494.8 L192.1,494.7 L192.7,494.7 L193.2,494.7 L194.6,494.6 L195.6,494.5 L196.4,494.4 L197.0,494.3 L197.5,494.2 L197.9,494.0 L198.4,493.8 L198.9,493.5 L199.8,493.2 L200.6,492.7 L201.3,492.2 L202.1,490.9 L202.8,489.8 L203.6,489.2 L204.3,486.8 L205.1,485.7 L205.8,484.0 L206.6,481.8 L207.4,481.2 L208.2,479.8 L209.0,478.1 L209.8,476.9 L210.5,475.9 L211.3,474.2 L212.0,473.7 L212.7,473.1 L213.3,473.0 L214.3,473.1 L215.3,474.0 L216.0,474.3 L216.7,475.3 L217.5,475.8 L218.2,476.7 L218.9,477.3 L219.6,478.2 L220.3,479.6 L221.0,481.2 L221.7,482.3 L222.4,484.5 L223.1,485.8 L223.9,487.2 L224.6,488.3 L225.3,489.4 L226.1,490.2 L226.9,490.6 L227.8,492.2 L228.4,492.6 L229.1,492.7 L229.9,493.1 L230.7,493.3 L231.4,493.6 L232.2,493.8 L232.9,494.0 L233.5,494.2 L233.9,494.4 L233.8,494.5 L233.9,494.6 L234.8,494.7 L237.4,494.7 L237.8,494.7 L238.3,494.7 L238.8,494.7 L239.3,494.7 L239.8,494.7 L240.4,494.7 L241.1,494.7 L241.7,494.7 L242.4,494.7 L243.1,494.8 L243.8,494.8 L244.6,494.8 L245.4,494.8 L246.2,494.8 L247.0,494.8 L247.8,494.8 L248.6,494.8 L249.4,494.8 L250.3,494.8 L251.2,494.8 L252.0,494.8 L252.9,494.8 L253.7,494.8 L254.6,494.8 L255.5,494.8 L256.3,494.8 L257.2,494.8 L258.0,494.8 L258.8,494.8 L259.7,494.8 L260.5,494.8 L261.3,494.8 L262.0,494.8 L262.8,494.8 L263.5,494.8 L264.2,494.8 L264.9,494.8 L265.6,494.8 L266.2,494.8 L266.8,494.8 L267.3,494.8 L267.9,494.8 L268.4,494.8 L268.8,494.8 L269.2,494.8 L269.6,494.8 L269.6,494.8 L174.3,494.8 Z" fill="#5c8877" fill-opacity="0.75" stroke="none"/>
<line x1="174.3" y1="494.5" x2="269.6" y2="494.5" stroke="#245e45" stroke-opacity="0.65" stroke-width="1"/>
<path d="M195.6,494.5 L196.4,494.4 L197.0,494.3 L197.5,494.2 L197.9,494.0 L198.4,493.8 L198.9,493.5 L199.8,493.2 L200.6,492.7 L201.3,492.2 L202.1,490.9 L202.8,489.8 L203.6,489.2 L204.3,486.8 L205.1,485.7 L205.8,484.0 L206.6,481.8 L207.4,481.2 L208.2,479.8 L209.0,478.1 L209.8,476.9 L210.5,475.9 L211.3,474.2 L212.0,473.7 L212.7,473.1 L213.3,473.0 L214.3,473.1 L215.3,474.0 L216.0,474.3 L216.7,475.3 L217.5,475.8 L218.2,476.7 L218.9,477.3 L219.6,478.2 L220.3,479.6 L221.0,481.2 L221.7,482.3 L222.4,484.5 L223.1,485.8 L223.9,487.2 L224.6,488.3 L225.3,489.4 L226.1,490.2 L226.9,490.6 L227.8,492.2 L228.4,492.6 L229.1,492.7 L229.9,493.1 L230.7,493.3 L231.4,493.6 L232.2,493.8 L232.9,494.0 L233.5,494.2 L233.9,494.4 L233.8,494.5" fill="none" stroke="#245e45" stroke-width="1.15" stroke-linejoin="round" stroke-linecap="round"/>
<path d="M174.3,510.5 L174.7,510.5 L175.1,510.5 L175.6,510.5 L176.2,510.5 L176.8,510.5 L177.4,510.5 L178.1,510.5 L178.8,510.5 L179.6,510.5 L180.4,510.5 L181.2,510.5 L182.0,510.5 L182.8,510.5 L183.7,510.5 L184.5,510.5 L185.4,510.5 L186.3,510.5 L187.2,510.5 L188.0,510.5 L188.9,510.5 L189.7,510.5 L190.5,510.5 L191.3,510.5 L192.1,510.5 L192.9,510.5 L193.6,510.5 L194.3,510.5 L194.9,510.5 L195.5,510.5 L196.1,510.4 L196.6,510.4 L197.0,510.4 L199.0,510.3 L199.9,510.2 L200.2,510.1 L200.3,509.7 L200.8,509.2 L201.6,508.5 L202.4,507.1 L203.2,506.5 L204.0,504.8 L204.7,503.2 L205.5,501.1 L206.2,499.0 L206.9,495.9 L207.6,494.0 L208.3,492.0 L209.1,489.6 L209.8,487.6 L210.5,486.2 L211.2,485.2 L211.9,484.4 L212.6,483.7 L213.3,483.4 L214.2,482.8 L215.0,483.1 L215.8,484.0 L216.6,485.9 L217.4,487.6 L218.2,490.1 L219.2,493.3 L220.1,497.3 L221.0,501.6 L222.0,505.5 L222.7,506.9 L223.4,508.1 L224.2,508.7 L224.9,509.6 L224.7,510.1 L223.9,510.3 L224.3,510.3 L227.8,510.4 L228.2,510.4 L228.6,510.4 L229.1,510.4 L229.6,510.4 L230.1,510.4 L230.6,510.4 L231.2,510.4 L231.8,510.4 L232.5,510.5 L233.1,510.5 L233.8,510.5 L234.5,510.5 L235.2,510.5 L235.9,510.5 L236.7,510.5 L237.5,510.5 L238.2,510.5 L239.0,510.5 L239.9,510.5 L240.7,510.5 L241.5,510.5 L242.4,510.5 L243.2,510.5 L244.1,510.5 L244.9,510.5 L245.8,510.5 L246.7,510.5 L247.6,510.5 L248.4,510.5 L249.3,510.5 L250.2,510.5 L251.1,510.5 L251.9,510.5 L252.8,510.5 L253.7,510.5 L254.5,510.5 L255.4,510.5 L256.2,510.5 L257.0,510.5 L257.9,510.5 L258.7,510.5 L259.5,510.5 L260.2,510.5 L261.0,510.5 L261.7,510.5 L262.5,510.5 L263.2,510.5 L263.8,510.5 L264.5,510.5 L265.1,510.5 L265.7,510.5 L266.3,510.5 L266.9,510.5 L267.4,510.5 L267.9,510.5 L268.4,510.5 L268.8,510.5 L269.2,510.5 L269.6,510.5 L269.6,510.5 L174.3,510.5 Z" fill="#8aca74" fill-opacity="0.75" stroke="none"/>
<line x1="174.3" y1="510.2" x2="269.6" y2="510.2" stroke="#48a84a" stroke-opacity="0.65" stroke-width="1"/>
<path d="M199.9,510.2 L200.2,510.1 L200.3,509.7 L200.8,509.2 L201.6,508.5 L202.4,507.1 L203.2,506.5 L204.0,504.8 L204.7,503.2 L205.5,501.1 L206.2,499.0 L206.9,495.9 L207.6,494.0 L208.3,492.0 L209.1,489.6 L209.8,487.6 L210.5,486.2 L211.2,485.2 L211.9,484.4 L212.6,483.7 L213.3,483.4 L214.2,482.8 L215.0,483.1 L215.8,484.0 L216.6,485.9 L217.4,487.6 L218.2,490.1 L219.2,493.3 L220.1,497.3 L221.0,501.6 L222.0,505.5 L222.7,506.9 L223.4,508.1 L224.2,508.7 L224.9,509.6 L224.7,510.1 L223.9,510.3" fill="none" stroke="#48a84a" stroke-width="1.15" stroke-linejoin="round" stroke-linecap="round"/>
<path d="M174.3,526.3 L174.7,526.3 L175.1,526.3 L175.6,526.3 L176.1,526.3 L176.6,526.3 L177.2,526.3 L177.8,526.3 L178.5,526.3 L179.1,526.3 L179.8,526.3 L180.6,526.3 L181.3,526.3 L182.1,526.3 L182.9,526.3 L183.7,526.3 L184.5,526.3 L185.4,526.3 L186.2,526.3 L187.1,526.3 L188.0,526.3 L188.8,526.3 L189.7,526.3 L190.6,526.3 L191.4,526.3 L192.3,526.3 L193.2,526.3 L194.0,526.3 L194.9,526.3 L195.7,526.3 L196.5,526.3 L197.3,526.3 L198.1,526.3 L198.8,526.3 L199.6,526.3 L200.3,526.3 L200.9,526.3 L201.6,526.3 L202.2,526.3 L202.8,526.3 L203.3,526.2 L203.8,526.2 L204.3,526.2 L204.7,526.2 L207.2,526.0 L208.1,525.8 L208.2,525.5 L208.2,525.2 L208.5,524.8 L209.3,524.4 L210.1,524.0 L210.8,523.5 L211.6,522.5 L212.4,522.2 L213.2,520.4 L213.9,519.5 L214.7,517.9 L215.4,515.4 L216.2,514.2 L217.0,512.9 L217.8,511.3 L218.6,509.3 L219.4,507.6 L220.1,506.3 L221.0,505.4 L221.9,503.6 L222.7,502.9 L223.5,502.0 L224.3,502.2 L225.0,503.1 L225.8,503.4 L226.5,505.1 L227.2,506.2 L228.0,508.1 L228.7,509.6 L229.4,510.8 L230.1,513.1 L230.8,514.5 L231.6,515.8 L232.3,517.2 L233.1,519.1 L233.9,520.5 L234.7,521.6 L235.5,522.6 L236.2,523.6 L236.9,524.3 L237.6,525.0 L238.4,525.4 L239.3,525.8 L239.8,526.0 L240.2,526.1 L240.5,526.1 L240.9,526.2 L241.5,526.2 L242.3,526.2 L243.5,526.2 L245.1,526.2 L245.6,526.2 L246.1,526.2 L246.6,526.2 L247.2,526.2 L247.8,526.2 L248.5,526.2 L249.2,526.2 L249.9,526.2 L250.7,526.2 L251.5,526.3 L252.2,526.3 L253.1,526.3 L253.9,526.3 L254.7,526.3 L255.6,526.3 L256.4,526.3 L257.3,526.3 L258.1,526.3 L259.0,526.3 L259.8,526.3 L260.7,526.3 L261.5,526.3 L262.3,526.3 L263.1,526.3 L263.8,526.3 L264.6,526.3 L265.3,526.3 L266.0,526.3 L266.6,526.3 L267.2,526.3 L267.8,526.3 L268.3,526.3 L268.8,526.3 L269.2,526.3 L269.6,526.3 L269.6,526.3 L174.3,526.3 Z" fill="#f8af5a" fill-opacity="0.75" stroke="none"/>
<line x1="174.3" y1="526.0" x2="269.6" y2="526.0" stroke="#de9233" stroke-opacity="0.65" stroke-width="1"/>
<path d="M207.2,526.0 L208.1,525.8 L208.2,525.5 L208.2,525.2 L208.5,524.8 L209.3,524.4 L210.1,524.0 L210.8,523.5 L211.6,522.5 L212.4,522.2 L213.2,520.4 L213.9,519.5 L214.7,517.9 L215.4,515.4 L216.2,514.2 L217.0,512.9 L217.8,511.3 L218.6,509.3 L219.4,507.6 L220.1,506.3 L221.0,505.4 L221.9,503.6 L222.7,502.9 L223.5,502.0 L224.3,502.2 L225.0,503.1 L225.8,503.4 L226.5,505.1 L227.2,506.2 L228.0,508.1 L228.7,509.6 L229.4,510.8 L230.1,513.1 L230.8,514.5 L231.6,515.8 L232.3,517.2 L233.1,519.1 L233.9,520.5 L234.7,521.6 L235.5,522.6 L236.2,523.6 L236.9,524.3 L237.6,525.0 L238.4,525.4 L239.3,525.8 L239.8,526.0" fill="none" stroke="#de9233" stroke-width="1.15" stroke-linejoin="round" stroke-linecap="round"/>
<path d="M174.3,541.8 L174.7,541.8 L175.1,541.8 L175.7,541.8 L176.2,541.8 L176.8,541.8 L177.5,541.8 L178.2,541.8 L178.9,541.8 L179.7,541.8 L180.5,541.8 L181.3,541.8 L182.2,541.8 L183.0,541.8 L183.9,541.8 L184.8,541.8 L185.7,541.8 L186.5,541.8 L187.4,541.8 L188.2,541.8 L189.1,541.8 L189.9,541.8 L190.7,541.8 L191.4,541.8 L192.1,541.8 L192.8,541.8 L193.5,541.8 L194.1,541.7 L194.6,541.7 L195.1,541.7 L196.5,541.6 L197.6,541.5 L198.4,541.4 L199.0,541.3 L199.5,541.1 L199.9,541.0 L200.3,540.7 L200.8,540.4 L201.7,540.0 L202.5,538.9 L203.2,538.5 L204.0,537.7 L204.7,536.1 L205.5,535.1 L206.2,533.3 L207.0,531.5 L207.7,529.3 L208.5,527.6 L209.3,526.0 L210.1,524.6 L211.0,522.7 L211.7,521.1 L212.4,520.0 L213.5,518.2 L214.3,517.4 L215.0,517.4 L215.7,518.2 L216.6,518.9 L217.2,520.3 L217.9,521.1 L218.6,522.6 L219.4,524.3 L220.1,525.6 L220.8,527.2 L221.6,529.2 L222.4,530.7 L223.1,532.2 L223.9,533.6 L224.7,535.1 L225.5,536.5 L226.2,537.6 L227.0,538.8 L227.8,539.3 L228.0,540.3 L227.7,540.8 L227.6,541.2 L228.7,541.5 L231.6,541.7 L232.0,541.7 L232.4,541.7 L232.9,541.8 L233.4,541.8 L234.0,541.8 L234.5,541.8 L235.1,541.8 L235.7,541.8 L236.4,541.8 L237.1,541.8 L237.8,541.8 L238.5,541.8 L239.2,541.8 L240.0,541.8 L240.7,541.8 L241.5,541.8 L242.3,541.8 L243.1,541.8 L244.0,541.8 L244.8,541.8 L245.7,541.8 L246.5,541.8 L247.4,541.8 L248.2,541.8 L249.1,541.8 L250.0,541.8 L250.8,541.8 L251.7,541.8 L252.6,541.8 L253.4,541.8 L254.3,541.8 L255.2,541.8 L256.0,541.8 L256.8,541.8 L257.7,541.8 L258.5,541.8 L259.3,541.8 L260.1,541.8 L260.8,541.8 L261.6,541.8 L262.3,541.8 L263.1,541.8 L263.7,541.8 L264.4,541.8 L265.1,541.8 L265.7,541.8 L266.3,541.8 L266.9,541.8 L267.4,541.8 L267.9,541.8 L268.4,541.8 L268.8,541.8 L269.2,541.8 L269.6,541.8 L269.6,541.8 L174.3,541.8 Z" fill="#90c4ee" fill-opacity="0.75" stroke="none"/>
<line x1="174.3" y1="541.5" x2="269.6" y2="541.5" stroke="#52a6dc" stroke-opacity="0.65" stroke-width="1"/>
<path d="M197.6,541.5 L198.4,541.4 L199.0,541.3 L199.5,541.1 L199.9,541.0 L200.3,540.7 L200.8,540.4 L201.7,540.0 L202.5,538.9 L203.2,538.5 L204.0,537.7 L204.7,536.1 L205.5,535.1 L206.2,533.3 L207.0,531.5 L207.7,529.3 L208.5,527.6 L209.3,526.0 L210.1,524.6 L211.0,522.7 L211.7,521.1 L212.4,520.0 L213.5,518.2 L214.3,517.4 L215.0,517.4 L215.7,518.2 L216.6,518.9 L217.2,520.3 L217.9,521.1 L218.6,522.6 L219.4,524.3 L220.1,525.6 L220.8,527.2 L221.6,529.2 L222.4,530.7 L223.1,532.2 L223.9,533.6 L224.7,535.1 L225.5,536.5 L226.2,537.6 L227.0,538.8 L227.8,539.3 L228.0,540.3 L227.7,540.8 L227.6,541.2 L228.7,541.5" fill="none" stroke="#52a6dc" stroke-width="1.15" stroke-linejoin="round" stroke-linecap="round"/>
<path d="M174.3,557.0 L175.1,557.0 L176.3,556.9 L177.0,556.6 L177.8,556.1 L178.7,555.7 L179.5,554.6 L180.2,553.7 L181.0,552.4 L181.7,550.6 L182.4,548.4 L183.1,546.6 L183.9,542.9 L184.6,540.0 L185.3,537.2 L186.3,534.1 L187.2,531.8 L188.0,530.0 L188.8,527.8 L189.4,527.7 L190.2,527.7 L191.2,529.2 L191.9,530.7 L192.7,532.6 L193.5,535.1 L194.3,538.2 L195.1,542.1 L195.8,545.0 L196.8,549.0 L197.8,553.0 L196.2,554.9 L194.7,555.9 L200.5,556.9 L200.9,556.9 L201.3,556.9 L201.7,557.0 L202.1,557.0 L202.6,557.0 L203.1,557.0 L203.6,557.0 L204.1,557.0 L204.6,557.0 L205.1,557.0 L205.7,557.0 L206.3,557.0 L206.9,557.0 L207.5,557.0 L208.1,557.0 L208.8,557.0 L209.4,557.0 L210.1,557.0 L210.8,557.0 L211.5,557.0 L212.2,557.0 L212.9,557.0 L213.6,557.0 L214.4,557.0 L215.1,557.0 L215.9,557.0 L216.6,557.0 L217.4,557.0 L218.2,557.0 L219.0,557.0 L219.8,557.0 L220.6,557.0 L221.4,557.0 L222.3,557.0 L223.1,557.0 L224.0,557.0 L224.8,557.0 L225.6,557.0 L226.5,557.0 L227.4,557.0 L228.2,557.0 L229.1,557.0 L230.0,557.0 L230.8,557.0 L231.7,557.0 L232.6,557.0 L233.5,557.0 L234.3,557.0 L235.2,557.0 L236.1,557.0 L237.0,557.0 L237.8,557.0 L238.7,557.0 L239.6,557.0 L240.5,557.0 L241.3,557.0 L242.2,557.0 L243.1,557.0 L243.9,557.0 L244.8,557.0 L245.6,557.0 L246.5,557.0 L247.3,557.0 L248.1,557.0 L249.0,557.0 L249.8,557.0 L250.6,557.0 L251.4,557.0 L252.2,557.0 L253.0,557.0 L253.7,557.0 L254.5,557.0 L255.3,557.0 L256.0,557.0 L256.7,557.0 L257.5,557.0 L258.2,557.0 L258.9,557.0 L259.5,557.0 L260.2,557.0 L260.9,557.0 L261.5,557.0 L262.2,557.0 L262.8,557.0 L263.4,557.0 L264.0,557.0 L264.5,557.0 L265.1,557.0 L265.6,557.0 L266.1,557.0 L266.6,557.0 L267.1,557.0 L267.6,557.0 L268.0,557.0 L268.4,557.0 L268.9,557.0 L269.2,557.0 L269.6,557.0 L269.6,557.0 L174.3,557.0 Z" fill="#df6354" fill-opacity="0.75" stroke="none"/>
<line x1="174.3" y1="556.7" x2="269.6" y2="556.7" stroke="#b02a40" stroke-opacity="0.65" stroke-width="1"/>
<path d="M176.3,556.9 L177.0,556.6 L177.8,556.1 L178.7,555.7 L179.5,554.6 L180.2,553.7 L181.0,552.4 L181.7,550.6 L182.4,548.4 L183.1,546.6 L183.9,542.9 L184.6,540.0 L185.3,537.2 L186.3,534.1 L187.2,531.8 L188.0,530.0 L188.8,527.8 L189.4,527.7 L190.2,527.7 L191.2,529.2 L191.9,530.7 L192.7,532.6 L193.5,535.1 L194.3,538.2 L195.1,542.1 L195.8,545.0 L196.8,549.0 L197.8,553.0 L196.2,554.9 L194.7,555.9 L200.5,556.9" fill="none" stroke="#b02a40" stroke-width="1.15" stroke-linejoin="round" stroke-linecap="round"/>
<line x1="173.80" y1="557.00" x2="269.60" y2="557.00" stroke="#231f20" stroke-width="1.2"/>
<line x1="178.44" y1="557.00" x2="178.44" y2="558.80" stroke="#231f20" stroke-width="0.7"/>
<line x1="182.32" y1="557.00" x2="182.32" y2="558.80" stroke="#231f20" stroke-width="0.7"/>
<line x1="185.34" y1="557.00" x2="185.34" y2="558.80" stroke="#231f20" stroke-width="0.7"/>
<line x1="187.80" y1="557.00" x2="187.80" y2="558.80" stroke="#231f20" stroke-width="0.7"/>
<line x1="189.88" y1="557.00" x2="189.88" y2="558.80" stroke="#231f20" stroke-width="0.7"/>
<line x1="191.69" y1="557.00" x2="191.69" y2="558.80" stroke="#231f20" stroke-width="0.7"/>
<line x1="193.28" y1="557.00" x2="193.28" y2="558.80" stroke="#231f20" stroke-width="0.7"/>
<line x1="194.70" y1="557.00" x2="194.70" y2="560.00" stroke="#231f20" stroke-width="0.9"/>
<line x1="204.06" y1="557.00" x2="204.06" y2="558.80" stroke="#231f20" stroke-width="0.7"/>
<line x1="209.54" y1="557.00" x2="209.54" y2="558.80" stroke="#231f20" stroke-width="0.7"/>
<line x1="213.42" y1="557.00" x2="213.42" y2="558.80" stroke="#231f20" stroke-width="0.7"/>
<line x1="216.44" y1="557.00" x2="216.44" y2="558.80" stroke="#231f20" stroke-width="0.7"/>
<line x1="218.90" y1="557.00" x2="218.90" y2="558.80" stroke="#231f20" stroke-width="0.7"/>
<line x1="220.98" y1="557.00" x2="220.98" y2="558.80" stroke="#231f20" stroke-width="0.7"/>
<line x1="222.79" y1="557.00" x2="222.79" y2="558.80" stroke="#231f20" stroke-width="0.7"/>
<line x1="224.38" y1="557.00" x2="224.38" y2="558.80" stroke="#231f20" stroke-width="0.7"/>
<line x1="225.80" y1="557.00" x2="225.80" y2="560.00" stroke="#231f20" stroke-width="0.9"/>
<line x1="235.16" y1="557.00" x2="235.16" y2="558.80" stroke="#231f20" stroke-width="0.7"/>
<line x1="240.64" y1="557.00" x2="240.64" y2="558.80" stroke="#231f20" stroke-width="0.7"/>
<line x1="244.52" y1="557.00" x2="244.52" y2="558.80" stroke="#231f20" stroke-width="0.7"/>
<line x1="247.54" y1="557.00" x2="247.54" y2="558.80" stroke="#231f20" stroke-width="0.7"/>
<line x1="250.00" y1="557.00" x2="250.00" y2="558.80" stroke="#231f20" stroke-width="0.7"/>
<line x1="252.08" y1="557.00" x2="252.08" y2="558.80" stroke="#231f20" stroke-width="0.7"/>
<line x1="253.89" y1="557.00" x2="253.89" y2="558.80" stroke="#231f20" stroke-width="0.7"/>
<line x1="255.48" y1="557.00" x2="255.48" y2="558.80" stroke="#231f20" stroke-width="0.7"/>
<line x1="256.90" y1="557.00" x2="256.90" y2="560.00" stroke="#231f20" stroke-width="0.9"/>
<line x1="266.26" y1="557.00" x2="266.26" y2="558.80" stroke="#231f20" stroke-width="0.7"/>
<text x="194.90" y="571.30" font-size="8" fill="#231f20" stroke="#231f20" stroke-width="0.25" text-anchor="middle">10<tspan font-size="5.60" dy="-3.36">3</tspan></text>
<text x="226.00" y="571.30" font-size="8" fill="#231f20" stroke="#231f20" stroke-width="0.25" text-anchor="middle">10<tspan font-size="5.60" dy="-3.36">4</tspan></text>
<text x="257.10" y="571.30" font-size="8" fill="#231f20" stroke="#231f20" stroke-width="0.25" text-anchor="middle">10<tspan font-size="5.60" dy="-3.36">5</tspan></text>
<text x="204.30" y="584.60" font-size="9.8" fill="#231f20" stroke="#231f20" stroke-width="0.4" textLength="34" lengthAdjust="spacingAndGlyphs">NeuAz (PE)</text>
<text x="277.00" y="470.80" font-size="8" fill="#231f20" stroke="#231f20" stroke-width="0.22">Gne-KO cells</text>
<text x="277.00" y="486.30" font-size="8.4" fill="#bb2a46" stroke="#bb2a46" stroke-width="0.22">+P735R</text>
<text x="277.00" y="502.60" font-size="8.4" fill="#bb2a46" stroke="#bb2a46" stroke-width="0.22">+C594Y</text>
<text x="277.00" y="519.00" font-size="8" fill="#231f20" stroke="#231f20" stroke-width="0.22">+WT</text>
<text x="277.00" y="535.70" font-size="8" fill="#231f20" stroke="#231f20" stroke-width="0.22">+empty</text>
<text x="277.00" y="553.00" font-size="8" fill="#231f20" stroke="#231f20" stroke-width="0.22">Unstained</text>
<line x1="311.50" y1="475.80" x2="311.50" y2="535.80" stroke="#231f20" stroke-width="1.1"/>
<text x="416.50" y="473.30" font-size="9.5" fill="#231f20" stroke="#231f20" stroke-width="0.22" text-anchor="middle">MFI of NeuAz</text>
<line x1="370.50" y1="478.00" x2="370.50" y2="557.80" stroke="#231f20" stroke-width="1.2"/>
<line x1="370.00" y1="557.30" x2="461.50" y2="557.30" stroke="#231f20" stroke-width="1.2"/>
<line x1="367.80" y1="557.30" x2="370.50" y2="557.30" stroke="#231f20" stroke-width="1"/>
<text x="364.00" y="560.30" font-size="8.5" fill="#231f20" stroke="#231f20" stroke-width="0.22" text-anchor="end">0</text>
<line x1="367.80" y1="542.08" x2="370.50" y2="542.08" stroke="#231f20" stroke-width="1"/>
<text x="364.00" y="545.08" font-size="8.5" fill="#231f20" stroke="#231f20" stroke-width="0.22" text-anchor="end">2000</text>
<line x1="367.80" y1="526.86" x2="370.50" y2="526.86" stroke="#231f20" stroke-width="1"/>
<text x="364.00" y="529.86" font-size="8.5" fill="#231f20" stroke="#231f20" stroke-width="0.22" text-anchor="end">4000</text>
<line x1="367.80" y1="511.64" x2="370.50" y2="511.64" stroke="#231f20" stroke-width="1"/>
<text x="364.00" y="514.64" font-size="8.5" fill="#231f20" stroke="#231f20" stroke-width="0.22" text-anchor="end">6000</text>
<line x1="367.80" y1="496.42" x2="370.50" y2="496.42" stroke="#231f20" stroke-width="1"/>
<text x="364.00" y="499.42" font-size="8.5" fill="#231f20" stroke="#231f20" stroke-width="0.22" text-anchor="end">8000</text>
<line x1="367.80" y1="481.20" x2="370.50" y2="481.20" stroke="#231f20" stroke-width="1"/>
<text x="364.00" y="484.20" font-size="8.5" fill="#231f20" stroke="#231f20" stroke-width="0.22" text-anchor="end">10000</text>
<line x1="385.00" y1="557.30" x2="385.00" y2="559.90" stroke="#231f20" stroke-width="0.9"/>
<line x1="405.80" y1="557.30" x2="405.80" y2="559.90" stroke="#231f20" stroke-width="0.9"/>
<line x1="426.50" y1="557.30" x2="426.50" y2="559.90" stroke="#231f20" stroke-width="0.9"/>
<line x1="447.30" y1="557.30" x2="447.30" y2="559.90" stroke="#231f20" stroke-width="0.9"/>
<rect x="378.70" y="528.76" width="12.60" height="28.54" fill="#c9c9cd"/>
<rect x="399.50" y="498.70" width="12.60" height="58.60" fill="#c9c9cd"/>
<rect x="420.20" y="530.66" width="12.60" height="26.63" fill="#c9c9cd"/>
<rect x="441.00" y="531.43" width="12.60" height="25.87" fill="#c9c9cd"/>
<line x1="385.00" y1="526.86" x2="385.00" y2="530.66" stroke="#231f20" stroke-width="0.9"/>
<line x1="381.50" y1="526.86" x2="388.50" y2="526.86" stroke="#231f20" stroke-width="0.9"/>
<line x1="381.50" y1="530.66" x2="388.50" y2="530.66" stroke="#231f20" stroke-width="0.9"/>
<line x1="405.80" y1="495.66" x2="405.80" y2="501.75" stroke="#231f20" stroke-width="0.9"/>
<line x1="402.30" y1="495.66" x2="409.30" y2="495.66" stroke="#231f20" stroke-width="0.9"/>
<line x1="402.30" y1="501.75" x2="409.30" y2="501.75" stroke="#231f20" stroke-width="0.9"/>
<line x1="426.50" y1="529.14" x2="426.50" y2="532.19" stroke="#231f20" stroke-width="0.9"/>
<line x1="423.00" y1="529.14" x2="430.00" y2="529.14" stroke="#231f20" stroke-width="0.9"/>
<line x1="423.00" y1="532.19" x2="430.00" y2="532.19" stroke="#231f20" stroke-width="0.9"/>
<line x1="447.30" y1="529.52" x2="447.30" y2="533.33" stroke="#231f20" stroke-width="0.9"/>
<line x1="443.80" y1="529.52" x2="450.80" y2="529.52" stroke="#231f20" stroke-width="0.9"/>
<line x1="443.80" y1="533.33" x2="450.80" y2="533.33" stroke="#231f20" stroke-width="0.9"/>
<path d="M380.4,525.36 L384.0,525.36 L382.2,528.46 Z" fill="#111"/>
<path d="M385.59999999999997,525.36 L389.2,525.36 L387.4,528.46 Z" fill="#111"/>
<path d="M383.0,529.16 L386.6,529.16 L384.8,532.26 Z" fill="#111"/>
<path d="M421.7,527.64 L425.3,527.64 L423.5,530.74 Z" fill="#111"/>
<path d="M427.7,527.64 L431.3,527.64 L429.5,530.74 Z" fill="#111"/>
<path d="M424.7,531.07 L428.3,531.07 L426.5,534.17 Z" fill="#111"/>
<path d="M442.7,527.64 L446.3,527.64 L444.5,530.74 Z" fill="#111"/>
<path d="M448.2,527.26 L451.8,527.26 L450,530.36 Z" fill="#111"/>
<path d="M445.5,531.07 L449.1,531.07 L447.3,534.17 Z" fill="#111"/>
<circle cx="402" cy="494.52" r="1.8" fill="#111"/>
<circle cx="409" cy="494.52" r="1.8" fill="#111"/>
<circle cx="405.5" cy="502.13" r="1.8" fill="#111"/>
<path d="M384,492.0 L384,489.5 L405.5,489.5 L405.5,492.0" fill="none" stroke="#231f20" stroke-width="0.8"/>
<text x="394.75" y="489.30" font-size="7.5" fill="#111" stroke="#111" stroke-width="0.3" text-anchor="middle">**</text>
<text x="388.9" y="567.5" font-size="8.3" fill="#231f20" stroke="#231f20" stroke-width="0.22" text-anchor="end" transform="rotate(-45 388.9 567.5)">+empty</text>
<text x="408.9" y="567.5" font-size="8.3" fill="#231f20" stroke="#231f20" stroke-width="0.22" text-anchor="end" transform="rotate(-45 408.9 567.5)">+WT</text>
<text x="430" y="567.5" font-size="8.3" fill="#bb2a46" stroke="#bb2a46" stroke-width="0.22" text-anchor="end" transform="rotate(-45 430 567.5)">+C594Y</text>
<text x="451.2" y="567.5" font-size="8.3" fill="#bb2a46" stroke="#bb2a46" stroke-width="0.22" text-anchor="end" transform="rotate(-45 451.2 567.5)">+P735R</text>
</svg></body></html>
